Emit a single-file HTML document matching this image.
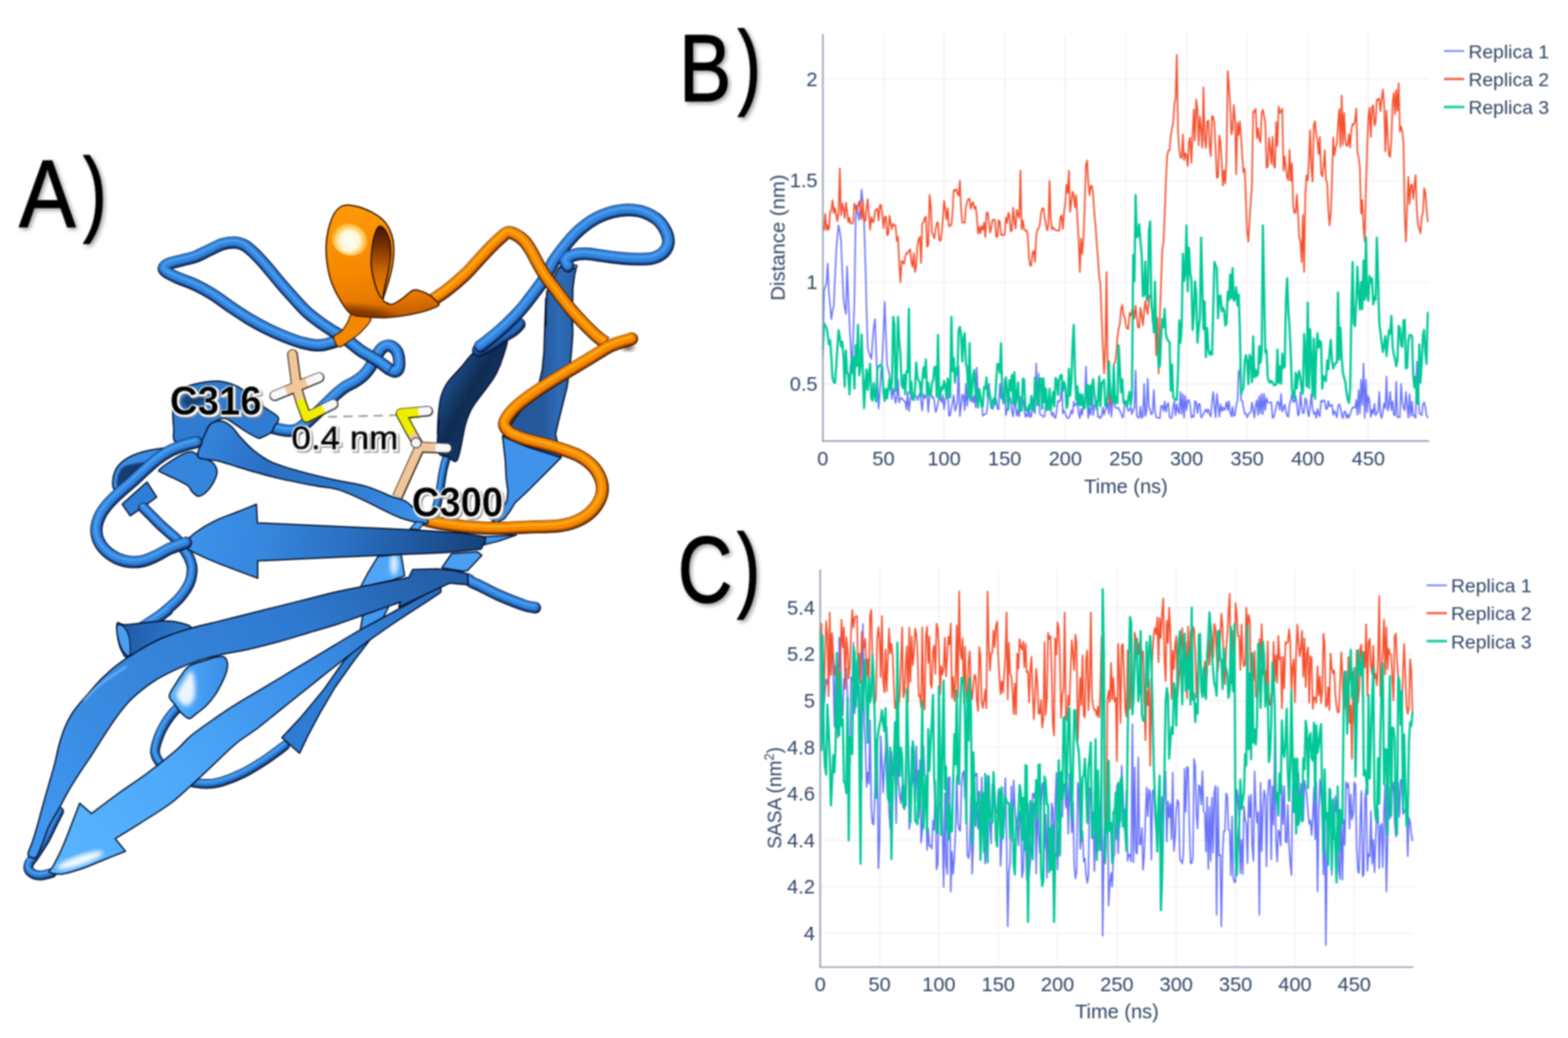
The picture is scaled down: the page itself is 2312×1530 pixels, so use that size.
<!DOCTYPE html>
<html><head><meta charset="utf-8"><title>Figure</title>
<style>
html,body{margin:0;padding:0;background:#fff;}
svg{display:block;}
text{font-family:"Liberation Sans",sans-serif;}
</style></head><body>
<svg width="2312" height="1530" viewBox="0 0 2312 1530">
<rect width="2312" height="1530" fill="#fff"/>
<defs><filter id="soft" x="0" y="0" width="100%" height="100%" filterUnits="userSpaceOnUse" color-interpolation-filters="sRGB"><feGaussianBlur stdDeviation="1.0"/></filter><filter id="soft2" x="0" y="0" width="100%" height="100%" filterUnits="userSpaceOnUse" color-interpolation-filters="sRGB"><feGaussianBlur stdDeviation="0.9"/></filter></defs>
<g filter="url(#soft)">
<defs>
<filter id="b1" x="-20%" y="-20%" width="140%" height="140%"><feGaussianBlur stdDeviation="1.1"/></filter>
<filter id="b3" x="-20%" y="-20%" width="140%" height="140%"><feGaussianBlur stdDeviation="3"/></filter>
<filter id="lab" x="-10%" y="-25%" width="125%" height="160%"><feMorphology in="SourceAlpha" operator="dilate" radius="1.9" result="d1"/><feOffset in="d1" dx="2.8" dy="3.2" result="sh"/><feFlood flood-color="#8c8c8c" flood-opacity="0.9"/><feComposite in2="sh" operator="in" result="shc"/><feOffset in="d1" dx="1.1" dy="1.3" result="d2"/><feFlood flood-color="#fbfbfb"/><feComposite in2="d2" operator="in" result="wh"/><feMerge><feMergeNode in="shc"/><feMergeNode in="wh"/><feMergeNode in="SourceGraphic"/></feMerge></filter>
<filter id="bigsh" x="-20%" y="-20%" width="150%" height="150%"><feGaussianBlur in="SourceAlpha" stdDeviation="3"/><feOffset dx="2.5" dy="3" result="b"/><feComponentTransfer in="b" result="b2"><feFuncA type="linear" slope="0.4"/></feComponentTransfer><feMerge><feMergeNode in="b2"/><feMergeNode in="SourceGraphic"/></feMerge></filter>
<filter id="b6" x="-30%" y="-30%" width="160%" height="160%"><feGaussianBlur stdDeviation="6"/></filter>
<linearGradient id="gStrandV" gradientUnits="userSpaceOnUse" x1="800.0" y1="0.0" x2="850.0" y2="0.0"><stop offset="0" stop-color="#25599c"/><stop offset="0.5" stop-color="#2e6cb8"/><stop offset="1" stop-color="#27609f"/></linearGradient>
<linearGradient id="gStrandD" gradientUnits="userSpaceOnUse" x1="650.0" y1="560.0" x2="740.0" y2="610.0"><stop offset="0" stop-color="#1f5596"/><stop offset="0.45" stop-color="#0f2c52"/><stop offset="0.8" stop-color="#133766"/><stop offset="1" stop-color="#1d4f8c"/></linearGradient>
<linearGradient id="gArrow1" gradientUnits="userSpaceOnUse" x1="280.0" y1="760.0" x2="710.0" y2="800.0"><stop offset="0" stop-color="#3e92ea"/><stop offset="0.25" stop-color="#3688de"/><stop offset="0.55" stop-color="#2a6fc2"/><stop offset="1" stop-color="#17427c"/></linearGradient>
<linearGradient id="gStrand2" gradientUnits="userSpaceOnUse" x1="60.0" y1="1200.0" x2="640.0" y2="850.0"><stop offset="0" stop-color="#4096ee"/><stop offset="0.3" stop-color="#3787dd"/><stop offset="0.7" stop-color="#2f7ad0"/><stop offset="1" stop-color="#245fa8"/></linearGradient>
<linearGradient id="gCone" gradientUnits="userSpaceOnUse" x1="180.0" y1="930.0" x2="280.0" y2="950.0"><stop offset="0" stop-color="#1f5aa6"/><stop offset="1" stop-color="#2f7cd4"/></linearGradient>
<linearGradient id="gLH" gradientUnits="userSpaceOnUse" x1="240.0" y1="1000.0" x2="330.0" y2="1000.0"><stop offset="0" stop-color="#5cb4ff"/><stop offset="0.4" stop-color="#4aa6fa"/><stop offset="1" stop-color="#3c8fe6"/></linearGradient>
<linearGradient id="gStrand3" gradientUnits="userSpaceOnUse" x1="80.0" y1="1280.0" x2="640.0" y2="870.0"><stop offset="0" stop-color="#5ab4ff"/><stop offset="0.35" stop-color="#4ca8fa"/><stop offset="0.7" stop-color="#3a8ee6"/><stop offset="1" stop-color="#2a6cbd"/></linearGradient>
<linearGradient id="gLong" gradientUnits="userSpaceOnUse" x1="300.0" y1="640.0" x2="620.0" y2="760.0"><stop offset="0" stop-color="#3585dc"/><stop offset="0.3" stop-color="#2a6fc4"/><stop offset="0.6" stop-color="#2d78cc"/><stop offset="1" stop-color="#3d8fe8"/></linearGradient>
<linearGradient id="gHelixO" gradientUnits="userSpaceOnUse" x1="500.0" y1="300.0" x2="520.0" y2="470.0"><stop offset="0" stop-color="#ff9a08"/><stop offset="0.6" stop-color="#f78800"/><stop offset="0.85" stop-color="#e87a00"/><stop offset="1" stop-color="#c86000"/></linearGradient>
<linearGradient id="gHoleO" gradientUnits="userSpaceOnUse" x1="565.0" y1="330.0" x2="560.0" y2="440.0"><stop offset="0" stop-color="#3a1500"/><stop offset="0.3" stop-color="#7a3300"/><stop offset="0.65" stop-color="#d06a00"/><stop offset="1" stop-color="#f08200"/></linearGradient>
<radialGradient id="gSpot" gradientUnits="userSpaceOnUse" cx="516.0" cy="355.0" r="30.0"><stop offset="0" stop-color="#ffffff" stop-opacity="1"/><stop offset="0.5" stop-color="#fffbe0" stop-opacity="0.95"/><stop offset="0.8" stop-color="#ffd860" stop-opacity="0.6"/><stop offset="1" stop-color="#ffa010" stop-opacity="0"/></radialGradient>
</defs>
<path d="M666.0,815.9L703.9,813.3L710.5,818.6L689.5,840.8L683.0,842.1L651.6,836.9Z" fill="#4a9ff2" stroke="#061430" stroke-width="2.0" stroke-linejoin="round" />
<path d="M557.5,819.9L591.5,817.3L594.1,832.9L596.7,848.6L578.4,855.2L531.4,865.6L543.1,843.4Z" fill="#4fa6f8" stroke="#061430" stroke-width="2.0" stroke-linejoin="round" />
<ellipse cx="581" cy="832" rx="6" ry="16" fill="#fff" opacity="0.8" filter="url(#b3)"/>
<path d="M535.3,904.5L574.5,891.4L563.6,913.2L530.9,930.6Z" fill="#4198ee" stroke="#061430" stroke-width="2.0" stroke-linejoin="round" />
<path d="M715.7,791.1L761.4,788.5L735.3,797.6L714.4,802.9Z" fill="#3f95ec" stroke="#061430" stroke-width="2.0" stroke-linejoin="round" />
<path d="M824.6,393.7L837.6,395.0L850.7,391.1L847.5,404.2L844.8,423.8L844.2,449.9L843.5,480.0L843.9,466.1L844.6,492.3L842.6,518.4L840.0,544.6L836.1,570.7L829.5,596.9L823.0,623.0L819.1,640.0L827.3,674.5L777.6,658.8L741.0,643.1L794.2,568.1L799.5,544.6L802.1,518.4L803.4,479.2L804.7,440.0L805.0,480.0L805.2,449.9L806.3,430.3L819.3,404.2Z" fill="url(#gStrandV)" stroke="#061430" stroke-width="2.0" stroke-linejoin="round" />
<path d="M741.0,643.1L777.6,658.8L827.3,674.5L803.8,698.0L777.6,724.2L759.3,741.2L751.5,754.2L743.7,764.7L733.2,769.9L725.4,768.6L738.4,756.9L747.6,737.3L748.9,724.2L746.3,704.6L745.0,678.4Z" fill="#3f93ea" stroke="#061430" stroke-width="2.0" stroke-linejoin="round" />
<path d="M824.6,393.7L828.5,391.1L837.6,395.0L845.5,389.8L850.7,391.1L849.4,395.0L837.6,397.0Z" fill="#4a9ff0" stroke="#061430" stroke-width="1.2" stroke-linejoin="round" />
<g fill="none" stroke-linecap="round" stroke-linejoin="round"><path d="M659.2,672.0C658.3,675.4 655.4,684.3 653.7,692.2C652.0,700.1 650.7,711.1 649.2,719.6C647.7,728.1 646.3,736.7 644.6,743.4C642.9,750.1 640.0,757.1 639.1,759.9" stroke="#061430" stroke-width="12.5"/><path d="M659.2,672.0C658.3,675.4 655.4,684.3 653.7,692.2C652.0,700.1 650.7,711.1 649.2,719.6C647.7,728.1 646.3,736.7 644.6,743.4C642.9,750.1 640.0,757.1 639.1,759.9" stroke="#1d55a0" stroke-width="9.9" transform="translate(-0.4,-0.8)"/><path d="M659.2,672.0C658.3,675.4 655.4,684.3 653.7,692.2C652.0,700.1 650.7,711.1 649.2,719.6C647.7,728.1 646.3,736.7 644.6,743.4C642.9,750.1 640.0,757.1 639.1,759.9" stroke="#3585dc" stroke-width="6.0" transform="translate(-0.9,-1.9)"/><path d="M659.2,672.0C658.3,675.4 655.4,684.3 653.7,692.2C652.0,700.1 650.7,711.1 649.2,719.6C647.7,728.1 646.3,736.7 644.6,743.4C642.9,750.1 640.0,757.1 639.1,759.9" stroke="#4aa6fa" stroke-width="2.1" stroke-opacity="0.85" transform="translate(-1.4,-3.0)"/></g>
<path d="M700.1,518.4C707.5,512.9 715.9,512.6 723.7,509.3C731.6,506.0 744.2,496.2 747.2,498.8C750.2,501.4 744.6,516.3 742.0,525.0C739.4,533.7 735.4,543.5 731.5,551.1C727.6,558.7 722.8,564.6 718.4,570.7C714.0,576.8 709.3,582.2 705.4,587.7C701.5,593.2 697.9,597.5 694.9,603.4C691.9,609.3 689.1,616.9 687.1,623.0C685.1,629.1 683.8,637.0 683.1,640.0C682.4,643.0 684.5,634.5 683.0,640.9C681.5,647.3 677.6,672.9 673.9,678.4C670.2,683.9 665.7,676.2 661.0,673.9C656.3,671.6 647.8,673.9 645.5,664.7C643.2,655.6 647.3,623.1 647.3,619.0C647.2,614.9 645.3,641.5 645.2,640.0C645.1,638.5 645.6,619.3 646.5,609.9C647.4,600.5 648.3,591.4 650.5,583.8C652.7,576.2 654.8,571.2 659.6,564.2C664.4,557.2 672.5,549.6 679.2,542.0C686.0,534.4 692.7,523.9 700.1,518.4Z" fill="url(#gStrandD)" stroke="#061430" stroke-width="2.0" stroke-linejoin="round" />
<g fill="none" stroke-linecap="round" stroke-linejoin="round"><path d="M765.5,477.9C764.2,479.2 762.0,482.5 757.6,485.8C753.2,489.1 745.4,493.6 739.3,497.5C733.2,501.4 726.6,506.1 721.0,509.3C715.4,512.5 708.0,515.3 705.4,516.5" stroke="#061430" stroke-width="19.0"/><path d="M765.5,477.9C764.2,479.2 762.0,482.5 757.6,485.8C753.2,489.1 745.4,493.6 739.3,497.5C733.2,501.4 726.6,506.1 721.0,509.3C715.4,512.5 708.0,515.3 705.4,516.5" stroke="#15407c" stroke-width="16.4" transform="translate(-0.4,-0.8)"/><path d="M765.5,477.9C764.2,479.2 762.0,482.5 757.6,485.8C753.2,489.1 745.4,493.6 739.3,497.5C733.2,501.4 726.6,506.1 721.0,509.3C715.4,512.5 708.0,515.3 705.4,516.5" stroke="#2468b8" stroke-width="12.5" transform="translate(-0.9,-1.9)"/></g>
<g fill="none" stroke-linecap="round" stroke-linejoin="round"><path d="M837.6,392.4C837.0,391.1 832.6,387.2 833.7,384.6C834.8,382.0 839.2,378.4 844.2,376.7C849.2,374.9 856.2,374.0 863.8,374.1C871.4,374.2 881.2,376.3 889.9,377.4C898.6,378.5 907.4,379.9 916.1,380.7C924.8,381.5 934.6,382.0 942.2,382.0C949.8,382.0 956.1,382.0 961.8,380.7C967.5,379.4 972.5,376.9 976.2,374.1C979.9,371.3 982.6,367.4 984.1,363.7C985.6,360.0 986.1,356.3 985.4,351.9C984.7,347.5 982.9,342.3 980.1,337.5C977.3,332.7 973.6,327.2 968.4,323.1C963.2,319.0 955.8,315.0 948.8,312.7C941.8,310.4 934.1,309.4 926.5,309.4C918.9,309.4 911.3,310.4 903.0,312.7C894.7,315.0 885.6,318.1 876.9,323.1C868.2,328.1 858.3,335.7 850.7,342.7C843.1,349.7 836.8,358.0 831.1,365.0C825.4,372.0 820.0,379.6 816.7,384.6C813.4,389.6 814.5,389.6 811.5,395.0C808.5,400.4 803.9,409.2 798.4,417.3C792.9,425.4 784.3,436.3 778.8,443.4C773.3,450.4 771.2,453.4 765.5,459.6C759.8,465.8 751.4,474.2 744.6,480.5C737.9,486.8 731.1,492.5 725.0,497.5C718.9,502.5 710.8,508.4 708.0,510.6" stroke="#061430" stroke-width="18.5"/><path d="M837.6,392.4C837.0,391.1 832.6,387.2 833.7,384.6C834.8,382.0 839.2,378.4 844.2,376.7C849.2,374.9 856.2,374.0 863.8,374.1C871.4,374.2 881.2,376.3 889.9,377.4C898.6,378.5 907.4,379.9 916.1,380.7C924.8,381.5 934.6,382.0 942.2,382.0C949.8,382.0 956.1,382.0 961.8,380.7C967.5,379.4 972.5,376.9 976.2,374.1C979.9,371.3 982.6,367.4 984.1,363.7C985.6,360.0 986.1,356.3 985.4,351.9C984.7,347.5 982.9,342.3 980.1,337.5C977.3,332.7 973.6,327.2 968.4,323.1C963.2,319.0 955.8,315.0 948.8,312.7C941.8,310.4 934.1,309.4 926.5,309.4C918.9,309.4 911.3,310.4 903.0,312.7C894.7,315.0 885.6,318.1 876.9,323.1C868.2,328.1 858.3,335.7 850.7,342.7C843.1,349.7 836.8,358.0 831.1,365.0C825.4,372.0 820.0,379.6 816.7,384.6C813.4,389.6 814.5,389.6 811.5,395.0C808.5,400.4 803.9,409.2 798.4,417.3C792.9,425.4 784.3,436.3 778.8,443.4C773.3,450.4 771.2,453.4 765.5,459.6C759.8,465.8 751.4,474.2 744.6,480.5C737.9,486.8 731.1,492.5 725.0,497.5C718.9,502.5 710.8,508.4 708.0,510.6" stroke="#1d55a0" stroke-width="15.9" transform="translate(-0.4,-0.8)"/><path d="M837.6,392.4C837.0,391.1 832.6,387.2 833.7,384.6C834.8,382.0 839.2,378.4 844.2,376.7C849.2,374.9 856.2,374.0 863.8,374.1C871.4,374.2 881.2,376.3 889.9,377.4C898.6,378.5 907.4,379.9 916.1,380.7C924.8,381.5 934.6,382.0 942.2,382.0C949.8,382.0 956.1,382.0 961.8,380.7C967.5,379.4 972.5,376.9 976.2,374.1C979.9,371.3 982.6,367.4 984.1,363.7C985.6,360.0 986.1,356.3 985.4,351.9C984.7,347.5 982.9,342.3 980.1,337.5C977.3,332.7 973.6,327.2 968.4,323.1C963.2,319.0 955.8,315.0 948.8,312.7C941.8,310.4 934.1,309.4 926.5,309.4C918.9,309.4 911.3,310.4 903.0,312.7C894.7,315.0 885.6,318.1 876.9,323.1C868.2,328.1 858.3,335.7 850.7,342.7C843.1,349.7 836.8,358.0 831.1,365.0C825.4,372.0 820.0,379.6 816.7,384.6C813.4,389.6 814.5,389.6 811.5,395.0C808.5,400.4 803.9,409.2 798.4,417.3C792.9,425.4 784.3,436.3 778.8,443.4C773.3,450.4 771.2,453.4 765.5,459.6C759.8,465.8 751.4,474.2 744.6,480.5C737.9,486.8 731.1,492.5 725.0,497.5C718.9,502.5 710.8,508.4 708.0,510.6" stroke="#3585dc" stroke-width="12.0" transform="translate(-0.9,-1.9)"/><path d="M837.6,392.4C837.0,391.1 832.6,387.2 833.7,384.6C834.8,382.0 839.2,378.4 844.2,376.7C849.2,374.9 856.2,374.0 863.8,374.1C871.4,374.2 881.2,376.3 889.9,377.4C898.6,378.5 907.4,379.9 916.1,380.7C924.8,381.5 934.6,382.0 942.2,382.0C949.8,382.0 956.1,382.0 961.8,380.7C967.5,379.4 972.5,376.9 976.2,374.1C979.9,371.3 982.6,367.4 984.1,363.7C985.6,360.0 986.1,356.3 985.4,351.9C984.7,347.5 982.9,342.3 980.1,337.5C977.3,332.7 973.6,327.2 968.4,323.1C963.2,319.0 955.8,315.0 948.8,312.7C941.8,310.4 934.1,309.4 926.5,309.4C918.9,309.4 911.3,310.4 903.0,312.7C894.7,315.0 885.6,318.1 876.9,323.1C868.2,328.1 858.3,335.7 850.7,342.7C843.1,349.7 836.8,358.0 831.1,365.0C825.4,372.0 820.0,379.6 816.7,384.6C813.4,389.6 814.5,389.6 811.5,395.0C808.5,400.4 803.9,409.2 798.4,417.3C792.9,425.4 784.3,436.3 778.8,443.4C773.3,450.4 771.2,453.4 765.5,459.6C759.8,465.8 751.4,474.2 744.6,480.5C737.9,486.8 731.1,492.5 725.0,497.5C718.9,502.5 710.8,508.4 708.0,510.6" stroke="#4aa6fa" stroke-width="3.1" stroke-opacity="0.85" transform="translate(-1.4,-3.0)"/></g>
<ellipse cx="926" cy="512" rx="9" ry="5" fill="#3a1800" opacity="0.7" filter="url(#b3)"/>
<g fill="none" stroke-linecap="butt" stroke-linejoin="round"><path d="M638.2,442.1C641.7,439.7 651.4,433.8 659.2,427.7C667.1,421.6 677.7,412.7 685.3,405.5C692.9,398.3 698.4,391.6 704.9,384.6C711.4,377.6 719.0,369.3 724.5,363.7C730.0,358.1 733.5,354.7 737.6,351.2C741.7,347.7 745.2,343.7 749.0,342.8C752.8,341.9 756.6,344.1 760.5,346.0C764.4,347.9 768.6,350.7 772.3,354.5C776.0,358.3 779.2,363.2 782.7,368.9C786.2,374.6 789.5,382.0 793.2,388.5C796.9,395.0 800.9,402.0 805.0,408.1C809.1,414.2 813.9,419.7 818.0,425.1C822.1,430.6 825.7,435.4 829.8,440.8C833.9,446.2 837.9,451.7 842.7,457.3C847.5,462.9 853.2,469.0 858.4,474.5C863.6,480.0 869.5,485.9 874.1,490.2C878.7,494.5 882.6,497.9 885.9,500.4C889.2,502.9 892.4,504.3 893.7,505.1" stroke="#3a1800" stroke-width="19.0"/><path d="M638.2,442.1C641.7,439.7 651.4,433.8 659.2,427.7C667.1,421.6 677.7,412.7 685.3,405.5C692.9,398.3 698.4,391.6 704.9,384.6C711.4,377.6 719.0,369.3 724.5,363.7C730.0,358.1 733.5,354.7 737.6,351.2C741.7,347.7 745.2,343.7 749.0,342.8C752.8,341.9 756.6,344.1 760.5,346.0C764.4,347.9 768.6,350.7 772.3,354.5C776.0,358.3 779.2,363.2 782.7,368.9C786.2,374.6 789.5,382.0 793.2,388.5C796.9,395.0 800.9,402.0 805.0,408.1C809.1,414.2 813.9,419.7 818.0,425.1C822.1,430.6 825.7,435.4 829.8,440.8C833.9,446.2 837.9,451.7 842.7,457.3C847.5,462.9 853.2,469.0 858.4,474.5C863.6,480.0 869.5,485.9 874.1,490.2C878.7,494.5 882.6,497.9 885.9,500.4C889.2,502.9 892.4,504.3 893.7,505.1" stroke="#c05a00" stroke-width="16.4" transform="translate(-0.4,-0.8)"/><path d="M638.2,442.1C641.7,439.7 651.4,433.8 659.2,427.7C667.1,421.6 677.7,412.7 685.3,405.5C692.9,398.3 698.4,391.6 704.9,384.6C711.4,377.6 719.0,369.3 724.5,363.7C730.0,358.1 733.5,354.7 737.6,351.2C741.7,347.7 745.2,343.7 749.0,342.8C752.8,341.9 756.6,344.1 760.5,346.0C764.4,347.9 768.6,350.7 772.3,354.5C776.0,358.3 779.2,363.2 782.7,368.9C786.2,374.6 789.5,382.0 793.2,388.5C796.9,395.0 800.9,402.0 805.0,408.1C809.1,414.2 813.9,419.7 818.0,425.1C822.1,430.6 825.7,435.4 829.8,440.8C833.9,446.2 837.9,451.7 842.7,457.3C847.5,462.9 853.2,469.0 858.4,474.5C863.6,480.0 869.5,485.9 874.1,490.2C878.7,494.5 882.6,497.9 885.9,500.4C889.2,502.9 892.4,504.3 893.7,505.1" stroke="#f88a00" stroke-width="12.5" transform="translate(-0.9,-1.9)"/><path d="M638.2,442.1C641.7,439.7 651.4,433.8 659.2,427.7C667.1,421.6 677.7,412.7 685.3,405.5C692.9,398.3 698.4,391.6 704.9,384.6C711.4,377.6 719.0,369.3 724.5,363.7C730.0,358.1 733.5,354.7 737.6,351.2C741.7,347.7 745.2,343.7 749.0,342.8C752.8,341.9 756.6,344.1 760.5,346.0C764.4,347.9 768.6,350.7 772.3,354.5C776.0,358.3 779.2,363.2 782.7,368.9C786.2,374.6 789.5,382.0 793.2,388.5C796.9,395.0 800.9,402.0 805.0,408.1C809.1,414.2 813.9,419.7 818.0,425.1C822.1,430.6 825.7,435.4 829.8,440.8C833.9,446.2 837.9,451.7 842.7,457.3C847.5,462.9 853.2,469.0 858.4,474.5C863.6,480.0 869.5,485.9 874.1,490.2C878.7,494.5 882.6,497.9 885.9,500.4C889.2,502.9 892.4,504.3 893.7,505.1" stroke="#ffb020" stroke-width="3.2" stroke-opacity="0.85" transform="translate(-1.4,-3.0)"/></g>
<g stroke-linecap="round"><g fill="none" stroke-linecap="round" stroke-linejoin="round"><path d="M931.4,499.6C928.4,500.5 918.9,503.1 913.3,505.1C907.7,507.1 905.0,507.4 897.6,511.4C890.2,515.4 878.0,523.4 868.8,528.9C859.6,534.4 851.3,539.4 842.6,544.6C833.9,549.8 825.2,554.8 816.5,560.3C807.8,565.8 799.0,571.2 790.3,577.3C781.6,583.4 771.2,590.8 764.2,596.9C757.2,603.0 751.9,609.1 748.5,613.9C745.1,618.7 743.8,622.1 743.8,625.5C743.8,628.9 746.4,632.0 748.5,634.5C750.6,637.0 751.9,638.2 756.7,640.5C761.6,642.8 769.8,646.0 777.6,648.4C785.5,650.8 795.1,652.5 803.8,654.9C812.5,657.3 821.2,659.7 829.9,662.7C838.6,665.8 848.5,668.8 856.1,673.2C863.7,677.6 870.7,683.2 875.7,688.9C880.7,694.6 884.0,701.3 886.1,707.2C888.2,713.1 888.8,718.5 888.1,724.2C887.5,729.9 885.4,735.8 882.2,741.2C879.1,746.7 874.7,752.3 869.2,756.9C863.8,761.5 857.1,765.5 849.5,768.6C841.9,771.7 835.2,773.8 823.4,775.2C811.6,776.6 791.4,776.4 778.7,776.9C766.0,777.4 757.8,778.1 747.3,778.4C736.8,778.6 726.3,778.8 715.9,778.4C705.5,778.0 695.0,777.3 684.6,776.3C674.2,775.3 662.4,773.7 653.2,772.2C644.0,770.7 633.2,768.0 629.2,767.1" stroke="#3a1800" stroke-width="19.0"/><path d="M931.4,499.6C928.4,500.5 918.9,503.1 913.3,505.1C907.7,507.1 905.0,507.4 897.6,511.4C890.2,515.4 878.0,523.4 868.8,528.9C859.6,534.4 851.3,539.4 842.6,544.6C833.9,549.8 825.2,554.8 816.5,560.3C807.8,565.8 799.0,571.2 790.3,577.3C781.6,583.4 771.2,590.8 764.2,596.9C757.2,603.0 751.9,609.1 748.5,613.9C745.1,618.7 743.8,622.1 743.8,625.5C743.8,628.9 746.4,632.0 748.5,634.5C750.6,637.0 751.9,638.2 756.7,640.5C761.6,642.8 769.8,646.0 777.6,648.4C785.5,650.8 795.1,652.5 803.8,654.9C812.5,657.3 821.2,659.7 829.9,662.7C838.6,665.8 848.5,668.8 856.1,673.2C863.7,677.6 870.7,683.2 875.7,688.9C880.7,694.6 884.0,701.3 886.1,707.2C888.2,713.1 888.8,718.5 888.1,724.2C887.5,729.9 885.4,735.8 882.2,741.2C879.1,746.7 874.7,752.3 869.2,756.9C863.8,761.5 857.1,765.5 849.5,768.6C841.9,771.7 835.2,773.8 823.4,775.2C811.6,776.6 791.4,776.4 778.7,776.9C766.0,777.4 757.8,778.1 747.3,778.4C736.8,778.6 726.3,778.8 715.9,778.4C705.5,778.0 695.0,777.3 684.6,776.3C674.2,775.3 662.4,773.7 653.2,772.2C644.0,770.7 633.2,768.0 629.2,767.1" stroke="#c05a00" stroke-width="16.4" transform="translate(-0.4,-0.8)"/><path d="M931.4,499.6C928.4,500.5 918.9,503.1 913.3,505.1C907.7,507.1 905.0,507.4 897.6,511.4C890.2,515.4 878.0,523.4 868.8,528.9C859.6,534.4 851.3,539.4 842.6,544.6C833.9,549.8 825.2,554.8 816.5,560.3C807.8,565.8 799.0,571.2 790.3,577.3C781.6,583.4 771.2,590.8 764.2,596.9C757.2,603.0 751.9,609.1 748.5,613.9C745.1,618.7 743.8,622.1 743.8,625.5C743.8,628.9 746.4,632.0 748.5,634.5C750.6,637.0 751.9,638.2 756.7,640.5C761.6,642.8 769.8,646.0 777.6,648.4C785.5,650.8 795.1,652.5 803.8,654.9C812.5,657.3 821.2,659.7 829.9,662.7C838.6,665.8 848.5,668.8 856.1,673.2C863.7,677.6 870.7,683.2 875.7,688.9C880.7,694.6 884.0,701.3 886.1,707.2C888.2,713.1 888.8,718.5 888.1,724.2C887.5,729.9 885.4,735.8 882.2,741.2C879.1,746.7 874.7,752.3 869.2,756.9C863.8,761.5 857.1,765.5 849.5,768.6C841.9,771.7 835.2,773.8 823.4,775.2C811.6,776.6 791.4,776.4 778.7,776.9C766.0,777.4 757.8,778.1 747.3,778.4C736.8,778.6 726.3,778.8 715.9,778.4C705.5,778.0 695.0,777.3 684.6,776.3C674.2,775.3 662.4,773.7 653.2,772.2C644.0,770.7 633.2,768.0 629.2,767.1" stroke="#f88a00" stroke-width="12.5" transform="translate(-0.9,-1.9)"/><path d="M931.4,499.6C928.4,500.5 918.9,503.1 913.3,505.1C907.7,507.1 905.0,507.4 897.6,511.4C890.2,515.4 878.0,523.4 868.8,528.9C859.6,534.4 851.3,539.4 842.6,544.6C833.9,549.8 825.2,554.8 816.5,560.3C807.8,565.8 799.0,571.2 790.3,577.3C781.6,583.4 771.2,590.8 764.2,596.9C757.2,603.0 751.9,609.1 748.5,613.9C745.1,618.7 743.8,622.1 743.8,625.5C743.8,628.9 746.4,632.0 748.5,634.5C750.6,637.0 751.9,638.2 756.7,640.5C761.6,642.8 769.8,646.0 777.6,648.4C785.5,650.8 795.1,652.5 803.8,654.9C812.5,657.3 821.2,659.7 829.9,662.7C838.6,665.8 848.5,668.8 856.1,673.2C863.7,677.6 870.7,683.2 875.7,688.9C880.7,694.6 884.0,701.3 886.1,707.2C888.2,713.1 888.8,718.5 888.1,724.2C887.5,729.9 885.4,735.8 882.2,741.2C879.1,746.7 874.7,752.3 869.2,756.9C863.8,761.5 857.1,765.5 849.5,768.6C841.9,771.7 835.2,773.8 823.4,775.2C811.6,776.6 791.4,776.4 778.7,776.9C766.0,777.4 757.8,778.1 747.3,778.4C736.8,778.6 726.3,778.8 715.9,778.4C705.5,778.0 695.0,777.3 684.6,776.3C674.2,775.3 662.4,773.7 653.2,772.2C644.0,770.7 633.2,768.0 629.2,767.1" stroke="#ffb020" stroke-width="3.2" stroke-opacity="0.85" transform="translate(-1.4,-3.0)"/></g></g>
<g fill="none" stroke-linecap="round" stroke-linejoin="round"><path d="M493.7,503.9C490.0,504.8 479.5,508.9 471.4,509.1C463.3,509.3 454.0,507.4 445.3,505.2C436.6,503.0 427.9,499.5 419.2,496.0C410.5,492.5 401.7,488.6 393.0,484.2C384.3,479.8 375.6,475.1 366.9,469.9C358.2,464.7 349.4,458.8 340.7,452.9C332.0,447.0 323.3,440.1 314.6,434.6C305.9,429.2 297.1,424.4 288.4,420.2C279.7,416.0 269.3,412.8 262.3,409.7C255.3,406.6 250.1,404.3 246.6,401.9C243.1,399.5 241.0,397.6 241.4,395.4C241.8,393.2 244.6,390.8 249.2,388.8C253.8,386.8 262.3,385.3 268.8,383.6C275.3,381.9 281.9,380.8 288.4,378.4C294.9,376.0 301.5,372.2 308.0,369.2C314.5,366.1 321.3,362.1 327.6,360.1C333.9,358.2 340.4,357.3 345.9,357.5C351.3,357.7 355.7,359.0 360.3,361.4C364.9,363.8 367.9,366.6 373.4,371.8C378.8,377.0 386.5,385.3 393.0,392.7C399.5,400.1 406.1,408.7 412.6,416.3C419.1,423.9 425.7,431.3 432.2,438.5C438.7,445.7 445.3,453.3 451.8,459.4C458.3,465.5 464.9,470.3 471.4,475.1C477.9,479.9 484.6,484.1 491.0,488.2C497.4,492.3 503.2,495.1 510.0,499.9C516.8,504.6 525.6,512.5 531.5,516.7C537.4,520.9 540.6,522.2 545.2,525.0C549.8,527.8 554.0,529.9 559.0,533.2C564.0,536.6 571.4,542.7 575.4,545.1C579.4,547.5 580.7,547.9 582.7,547.8C584.7,547.6 586.3,546.3 587.3,544.2C588.3,542.1 588.9,539.0 588.7,535.0C588.6,531.0 587.9,524.2 586.4,520.4C584.9,516.6 582.3,514.0 580.0,512.2C577.7,510.4 575.0,509.6 572.7,509.4C570.4,509.2 568.1,510.3 566.3,511.2C564.5,512.1 563.7,512.4 561.7,514.9C559.7,517.4 557.1,521.3 554.4,525.9C551.6,530.5 548.2,537.8 545.2,542.4C542.2,547.0 539.9,549.8 536.1,553.3C532.3,556.8 527.0,560.5 522.4,563.4C517.8,566.3 513.2,567.7 508.6,570.7C504.0,573.8 498.7,578.4 494.9,581.7C491.1,585.1 494.0,583.0 485.8,590.8C477.6,598.6 455.6,621.1 445.7,628.5C435.8,635.9 433.1,634.6 426.1,635.0C419.1,635.4 407.6,631.8 403.9,631.1" stroke="#061430" stroke-width="18.0"/><path d="M493.7,503.9C490.0,504.8 479.5,508.9 471.4,509.1C463.3,509.3 454.0,507.4 445.3,505.2C436.6,503.0 427.9,499.5 419.2,496.0C410.5,492.5 401.7,488.6 393.0,484.2C384.3,479.8 375.6,475.1 366.9,469.9C358.2,464.7 349.4,458.8 340.7,452.9C332.0,447.0 323.3,440.1 314.6,434.6C305.9,429.2 297.1,424.4 288.4,420.2C279.7,416.0 269.3,412.8 262.3,409.7C255.3,406.6 250.1,404.3 246.6,401.9C243.1,399.5 241.0,397.6 241.4,395.4C241.8,393.2 244.6,390.8 249.2,388.8C253.8,386.8 262.3,385.3 268.8,383.6C275.3,381.9 281.9,380.8 288.4,378.4C294.9,376.0 301.5,372.2 308.0,369.2C314.5,366.1 321.3,362.1 327.6,360.1C333.9,358.2 340.4,357.3 345.9,357.5C351.3,357.7 355.7,359.0 360.3,361.4C364.9,363.8 367.9,366.6 373.4,371.8C378.8,377.0 386.5,385.3 393.0,392.7C399.5,400.1 406.1,408.7 412.6,416.3C419.1,423.9 425.7,431.3 432.2,438.5C438.7,445.7 445.3,453.3 451.8,459.4C458.3,465.5 464.9,470.3 471.4,475.1C477.9,479.9 484.6,484.1 491.0,488.2C497.4,492.3 503.2,495.1 510.0,499.9C516.8,504.6 525.6,512.5 531.5,516.7C537.4,520.9 540.6,522.2 545.2,525.0C549.8,527.8 554.0,529.9 559.0,533.2C564.0,536.6 571.4,542.7 575.4,545.1C579.4,547.5 580.7,547.9 582.7,547.8C584.7,547.6 586.3,546.3 587.3,544.2C588.3,542.1 588.9,539.0 588.7,535.0C588.6,531.0 587.9,524.2 586.4,520.4C584.9,516.6 582.3,514.0 580.0,512.2C577.7,510.4 575.0,509.6 572.7,509.4C570.4,509.2 568.1,510.3 566.3,511.2C564.5,512.1 563.7,512.4 561.7,514.9C559.7,517.4 557.1,521.3 554.4,525.9C551.6,530.5 548.2,537.8 545.2,542.4C542.2,547.0 539.9,549.8 536.1,553.3C532.3,556.8 527.0,560.5 522.4,563.4C517.8,566.3 513.2,567.7 508.6,570.7C504.0,573.8 498.7,578.4 494.9,581.7C491.1,585.1 494.0,583.0 485.8,590.8C477.6,598.6 455.6,621.1 445.7,628.5C435.8,635.9 433.1,634.6 426.1,635.0C419.1,635.4 407.6,631.8 403.9,631.1" stroke="#1d55a0" stroke-width="15.4" transform="translate(-0.4,-0.8)"/><path d="M493.7,503.9C490.0,504.8 479.5,508.9 471.4,509.1C463.3,509.3 454.0,507.4 445.3,505.2C436.6,503.0 427.9,499.5 419.2,496.0C410.5,492.5 401.7,488.6 393.0,484.2C384.3,479.8 375.6,475.1 366.9,469.9C358.2,464.7 349.4,458.8 340.7,452.9C332.0,447.0 323.3,440.1 314.6,434.6C305.9,429.2 297.1,424.4 288.4,420.2C279.7,416.0 269.3,412.8 262.3,409.7C255.3,406.6 250.1,404.3 246.6,401.9C243.1,399.5 241.0,397.6 241.4,395.4C241.8,393.2 244.6,390.8 249.2,388.8C253.8,386.8 262.3,385.3 268.8,383.6C275.3,381.9 281.9,380.8 288.4,378.4C294.9,376.0 301.5,372.2 308.0,369.2C314.5,366.1 321.3,362.1 327.6,360.1C333.9,358.2 340.4,357.3 345.9,357.5C351.3,357.7 355.7,359.0 360.3,361.4C364.9,363.8 367.9,366.6 373.4,371.8C378.8,377.0 386.5,385.3 393.0,392.7C399.5,400.1 406.1,408.7 412.6,416.3C419.1,423.9 425.7,431.3 432.2,438.5C438.7,445.7 445.3,453.3 451.8,459.4C458.3,465.5 464.9,470.3 471.4,475.1C477.9,479.9 484.6,484.1 491.0,488.2C497.4,492.3 503.2,495.1 510.0,499.9C516.8,504.6 525.6,512.5 531.5,516.7C537.4,520.9 540.6,522.2 545.2,525.0C549.8,527.8 554.0,529.9 559.0,533.2C564.0,536.6 571.4,542.7 575.4,545.1C579.4,547.5 580.7,547.9 582.7,547.8C584.7,547.6 586.3,546.3 587.3,544.2C588.3,542.1 588.9,539.0 588.7,535.0C588.6,531.0 587.9,524.2 586.4,520.4C584.9,516.6 582.3,514.0 580.0,512.2C577.7,510.4 575.0,509.6 572.7,509.4C570.4,509.2 568.1,510.3 566.3,511.2C564.5,512.1 563.7,512.4 561.7,514.9C559.7,517.4 557.1,521.3 554.4,525.9C551.6,530.5 548.2,537.8 545.2,542.4C542.2,547.0 539.9,549.8 536.1,553.3C532.3,556.8 527.0,560.5 522.4,563.4C517.8,566.3 513.2,567.7 508.6,570.7C504.0,573.8 498.7,578.4 494.9,581.7C491.1,585.1 494.0,583.0 485.8,590.8C477.6,598.6 455.6,621.1 445.7,628.5C435.8,635.9 433.1,634.6 426.1,635.0C419.1,635.4 407.6,631.8 403.9,631.1" stroke="#3585dc" stroke-width="11.5" transform="translate(-0.9,-1.9)"/><path d="M493.7,503.9C490.0,504.8 479.5,508.9 471.4,509.1C463.3,509.3 454.0,507.4 445.3,505.2C436.6,503.0 427.9,499.5 419.2,496.0C410.5,492.5 401.7,488.6 393.0,484.2C384.3,479.8 375.6,475.1 366.9,469.9C358.2,464.7 349.4,458.8 340.7,452.9C332.0,447.0 323.3,440.1 314.6,434.6C305.9,429.2 297.1,424.4 288.4,420.2C279.7,416.0 269.3,412.8 262.3,409.7C255.3,406.6 250.1,404.3 246.6,401.9C243.1,399.5 241.0,397.6 241.4,395.4C241.8,393.2 244.6,390.8 249.2,388.8C253.8,386.8 262.3,385.3 268.8,383.6C275.3,381.9 281.9,380.8 288.4,378.4C294.9,376.0 301.5,372.2 308.0,369.2C314.5,366.1 321.3,362.1 327.6,360.1C333.9,358.2 340.4,357.3 345.9,357.5C351.3,357.7 355.7,359.0 360.3,361.4C364.9,363.8 367.9,366.6 373.4,371.8C378.8,377.0 386.5,385.3 393.0,392.7C399.5,400.1 406.1,408.7 412.6,416.3C419.1,423.9 425.7,431.3 432.2,438.5C438.7,445.7 445.3,453.3 451.8,459.4C458.3,465.5 464.9,470.3 471.4,475.1C477.9,479.9 484.6,484.1 491.0,488.2C497.4,492.3 503.2,495.1 510.0,499.9C516.8,504.6 525.6,512.5 531.5,516.7C537.4,520.9 540.6,522.2 545.2,525.0C549.8,527.8 554.0,529.9 559.0,533.2C564.0,536.6 571.4,542.7 575.4,545.1C579.4,547.5 580.7,547.9 582.7,547.8C584.7,547.6 586.3,546.3 587.3,544.2C588.3,542.1 588.9,539.0 588.7,535.0C588.6,531.0 587.9,524.2 586.4,520.4C584.9,516.6 582.3,514.0 580.0,512.2C577.7,510.4 575.0,509.6 572.7,509.4C570.4,509.2 568.1,510.3 566.3,511.2C564.5,512.1 563.7,512.4 561.7,514.9C559.7,517.4 557.1,521.3 554.4,525.9C551.6,530.5 548.2,537.8 545.2,542.4C542.2,547.0 539.9,549.8 536.1,553.3C532.3,556.8 527.0,560.5 522.4,563.4C517.8,566.3 513.2,567.7 508.6,570.7C504.0,573.8 498.7,578.4 494.9,581.7C491.1,585.1 494.0,583.0 485.8,590.8C477.6,598.6 455.6,621.1 445.7,628.5C435.8,635.9 433.1,634.6 426.1,635.0C419.1,635.4 407.6,631.8 403.9,631.1" stroke="#4aa6fa" stroke-width="3.1" stroke-opacity="0.85" transform="translate(-1.4,-3.0)"/></g><g fill="none" stroke-linecap="butt" stroke-linejoin="round"><path d="M491.0,488.2C497.4,492.3 503.2,495.1 510.0,499.9C516.8,504.6 525.6,512.5 531.5,516.7C537.4,520.9 540.6,522.2 545.2,525.0C549.8,527.8 554.0,529.9 559.0,533.2C564.0,536.6 571.4,542.7 575.4,545.1" stroke="#061430" stroke-width="18.0"/><path d="M491.0,488.2C497.4,492.3 503.2,495.1 510.0,499.9C516.8,504.6 525.6,512.5 531.5,516.7C537.4,520.9 540.6,522.2 545.2,525.0C549.8,527.8 554.0,529.9 559.0,533.2C564.0,536.6 571.4,542.7 575.4,545.1" stroke="#1d55a0" stroke-width="15.4" transform="translate(-0.4,-0.8)"/><path d="M491.0,488.2C497.4,492.3 503.2,495.1 510.0,499.9C516.8,504.6 525.6,512.5 531.5,516.7C537.4,520.9 540.6,522.2 545.2,525.0C549.8,527.8 554.0,529.9 559.0,533.2C564.0,536.6 571.4,542.7 575.4,545.1" stroke="#3585dc" stroke-width="11.5" transform="translate(-0.9,-1.9)"/><path d="M491.0,488.2C497.4,492.3 503.2,495.1 510.0,499.9C516.8,504.6 525.6,512.5 531.5,516.7C537.4,520.9 540.6,522.2 545.2,525.0C549.8,527.8 554.0,529.9 559.0,533.2C564.0,536.6 571.4,542.7 575.4,545.1" stroke="#4aa6fa" stroke-width="3.1" stroke-opacity="0.85" transform="translate(-1.4,-3.0)"/></g>
<path d="M492.2,496.6C493.0,492.7 500.6,491.3 504.1,487.5C507.6,483.7 510.9,477.7 513.2,473.7C515.5,469.7 514.8,465.4 517.8,463.7C520.8,462.0 526.6,462.6 531.5,463.7C536.4,464.8 547.1,465.7 547.1,470.1C547.1,474.5 537.1,484.6 531.5,490.2C525.9,495.8 518.5,500.4 513.2,503.9C507.9,507.4 503.0,512.4 499.5,511.2C496.0,510.0 491.4,500.6 492.2,496.6Z" fill="#f58800" stroke="#3a1800" stroke-width="1.6" stroke-linejoin="round" />
<path d="M518.0,463.0C511.5,459.1 507.1,451.0 502.3,443.4C497.5,435.8 492.5,426.0 489.2,417.3C485.9,408.6 484.1,399.8 482.7,391.1C481.3,382.4 480.5,373.7 480.7,365.0C480.9,356.3 482.1,346.9 484.0,338.8C485.9,330.7 488.8,322.3 491.8,316.6C494.9,310.9 498.8,307.2 502.3,304.8C505.8,302.4 508.4,302.2 512.7,302.2C517.1,302.2 522.5,303.1 528.4,304.8C534.3,306.6 541.9,309.4 548.0,312.7C554.1,316.0 560.6,320.3 565.0,324.4C569.4,328.5 571.8,332.7 574.2,337.5C576.6,342.3 578.3,347.5 579.4,353.2C580.5,358.9 580.8,365.2 580.7,371.5C580.6,377.8 579.9,384.6 578.8,391.1C577.7,397.6 575.8,404.6 574.2,410.7C572.6,416.8 570.5,422.7 569.0,427.7C567.5,432.7 565.2,437.9 565.0,440.8C564.8,443.7 565.4,443.7 567.6,445.0C569.8,446.3 573.7,449.5 578.1,448.6C582.5,447.7 588.6,443.0 593.8,439.5C599.0,436.0 604.5,429.2 609.5,427.7C614.5,426.2 619.8,429.0 623.9,430.3C628.0,431.6 631.9,434.2 634.3,435.6C636.7,437.0 636.0,436.6 638.2,438.8C640.4,441.0 647.2,446.1 647.4,448.6C647.6,451.1 644.1,451.9 639.5,453.9C634.9,455.9 627.5,458.4 619.9,460.4C612.3,462.3 602.5,464.3 593.8,465.6C585.1,466.9 576.3,468.0 567.6,468.2C558.9,468.4 549.8,467.8 541.5,466.9C533.2,466.0 524.5,466.9 518.0,463.0Z" fill="url(#gHelixO)" stroke="#3a1800" stroke-width="2.0" stroke-linejoin="round" />
<clipPath id="cpBody"><path d="M518.0,463.0C511.5,459.1 507.1,451.0 502.3,443.4C497.5,435.8 492.5,426.0 489.2,417.3C485.9,408.6 484.1,399.8 482.7,391.1C481.3,382.4 480.5,373.7 480.7,365.0C480.9,356.3 482.1,346.9 484.0,338.8C485.9,330.7 488.8,322.3 491.8,316.6C494.9,310.9 498.8,307.2 502.3,304.8C505.8,302.4 508.4,302.2 512.7,302.2C517.1,302.2 522.5,303.1 528.4,304.8C534.3,306.6 541.9,309.4 548.0,312.7C554.1,316.0 560.6,320.3 565.0,324.4C569.4,328.5 571.8,332.7 574.2,337.5C576.6,342.3 578.3,347.5 579.4,353.2C580.5,358.9 580.8,365.2 580.7,371.5C580.6,377.8 579.9,384.6 578.8,391.1C577.7,397.6 575.8,404.6 574.2,410.7C572.6,416.8 570.5,422.7 569.0,427.7C567.5,432.7 565.2,437.9 565.0,440.8C564.8,443.7 565.4,443.7 567.6,445.0C569.8,446.3 573.7,449.5 578.1,448.6C582.5,447.7 588.6,443.0 593.8,439.5C599.0,436.0 604.5,429.2 609.5,427.7C614.5,426.2 619.8,429.0 623.9,430.3C628.0,431.6 631.9,434.2 634.3,435.6C636.7,437.0 636.0,436.6 638.2,438.8C640.4,441.0 647.2,446.1 647.4,448.6C647.6,451.1 644.1,451.9 639.5,453.9C634.9,455.9 627.5,458.4 619.9,460.4C612.3,462.3 602.5,464.3 593.8,465.6C585.1,466.9 576.3,468.0 567.6,468.2C558.9,468.4 549.8,467.8 541.5,466.9C533.2,466.0 524.5,466.9 518.0,463.0Z"/></clipPath>
<g clip-path="url(#cpBody)"><ellipse cx="535" cy="463" rx="48" ry="9" fill="#5a2400" opacity="0.75" filter="url(#b6)" transform="rotate(8 535 463)"/></g>
<path d="M559.8,333.6C562.0,333.4 565.2,335.5 567.6,338.8C570.0,342.1 572.8,347.8 574.2,353.2C575.6,358.6 576.1,365.2 576.1,371.5C576.1,377.8 575.2,384.6 574.2,391.1C573.2,397.6 571.6,404.6 570.3,410.7C569.0,416.8 567.4,422.9 566.3,427.7C565.2,432.5 565.2,439.1 563.7,439.5C562.2,439.9 559.4,435.1 557.2,430.3C555.0,425.5 552.3,417.2 550.7,410.7C549.1,404.2 547.9,397.6 547.4,391.1C546.9,384.6 547.5,377.8 548.0,371.5C548.5,365.2 549.6,358.4 550.7,353.2C551.8,348.0 553.1,343.4 554.6,340.1C556.1,336.8 557.6,333.8 559.8,333.6Z" fill="url(#gHoleO)" stroke="#2a1000" stroke-width="2.0" stroke-linejoin="round" />
<ellipse cx="515.4" cy="353.2" rx="27" ry="23" fill="url(#gSpot)" transform="rotate(20 515.4 353.2)"/>
<path d="M168.1,721.2C165.8,718.5 166.0,710.2 166.8,704.7C167.7,699.2 169.7,693.1 173.2,688.2C176.7,683.3 181.7,679.0 187.8,675.4C193.9,671.8 201.2,668.7 209.8,666.3C218.4,663.9 229.9,662.0 239.1,660.8C248.2,659.6 261.6,657.8 264.7,659.0C267.8,660.2 261.7,665.4 257.4,668.1C253.1,670.8 244.6,672.4 239.1,675.4C233.6,678.4 229.3,682.7 224.4,686.4C219.5,690.1 214.7,693.7 209.8,697.4C204.9,701.1 200.1,704.4 195.2,708.4C190.3,712.4 185.0,719.1 180.5,721.2C176.0,723.3 170.4,724.0 168.1,721.2Z" fill="#3a8ce4" stroke="#061430" stroke-width="2.0" stroke-linejoin="round" />
<path d="M173.2,717.5C171.8,714.8 172.6,705.9 174.1,701.0C175.6,696.1 177.7,691.2 182.4,688.2C187.1,685.2 195.2,683.9 202.5,682.7C209.8,681.5 225.1,678.8 226.3,680.9C227.5,683.0 215.0,691.3 209.8,695.6C204.6,699.9 199.8,702.9 195.2,706.5C190.6,710.1 186.1,715.7 182.4,717.5C178.7,719.3 174.6,720.2 173.2,717.5Z" fill="#123a70" stroke="none" stroke-width="0.0" stroke-linejoin="round" filter="url(#b1)"/>
<path d="M254.8,605.0C254.8,597.4 253.7,590.9 256.1,585.4C258.5,579.9 262.6,575.8 269.2,572.3C275.8,568.8 286.7,566.1 295.4,564.4C304.1,562.6 312.8,561.1 321.5,561.8C330.2,562.5 340.0,565.1 347.6,568.4C355.2,571.7 360.8,576.4 367.3,581.4C373.9,586.4 379.7,592.7 386.9,598.4C394.1,604.1 407.6,610.2 410.4,615.4C413.2,620.6 405.6,626.1 403.9,629.8C402.1,633.5 402.7,635.2 399.9,637.6C397.1,640.0 390.2,642.9 386.9,644.2C383.6,645.5 384.7,647.0 380.3,645.5C375.9,644.0 366.8,638.7 360.7,635.0C354.6,631.3 348.5,626.3 343.7,623.3C338.9,620.2 335.7,617.4 332.0,616.7C328.3,616.0 325.4,617.3 321.5,619.3C317.6,621.3 311.4,625.5 308.4,628.5C305.3,631.5 304.5,633.9 303.2,637.6C301.9,641.3 307.8,648.3 300.6,650.7C293.4,653.1 267.5,655.3 260.1,652.0C252.7,648.7 257.0,638.9 256.1,631.1C255.2,623.3 254.8,612.6 254.8,605.0Z" fill="#2f7cd2" stroke="#061430" stroke-width="2.0" stroke-linejoin="round" />
<path d="M267.9,593.2C267.2,590.2 269.8,585.1 273.1,582.7C276.4,580.3 282.9,579.0 287.5,578.8C292.1,578.6 298.0,579.4 300.6,581.4C303.2,583.4 304.5,587.8 303.2,590.6C301.9,593.4 297.0,596.7 292.7,598.4C288.4,600.1 281.2,601.9 277.1,601.0C273.0,600.1 268.6,596.2 267.9,593.2Z" fill="#173f78" stroke="none" stroke-width="0.0" stroke-linejoin="round" filter="url(#b3)"/>
<path d="M235.0,692.3C237.2,689.7 244.8,684.4 250.7,680.5C256.6,676.6 264.9,671.2 270.3,668.8C275.8,666.4 279.0,665.2 283.4,666.1C287.8,667.0 291.5,671.4 296.5,674.0C301.5,676.6 309.6,678.1 313.5,681.8C317.4,685.5 320.0,691.0 320.0,696.2C320.0,701.4 316.3,708.2 313.5,713.2C310.7,718.2 306.5,723.2 303.0,726.3C299.5,729.3 295.8,731.7 292.5,731.5C289.2,731.3 286.0,727.6 283.4,725.0C280.8,722.4 281.2,719.1 276.9,715.8C272.5,712.5 263.9,708.7 257.3,705.4C250.8,702.1 241.3,698.4 237.6,696.2C233.9,694.0 232.8,694.9 235.0,692.3Z" fill="#3585dc" stroke="#061430" stroke-width="2.0" stroke-linejoin="round" />
<path d="M180.1,743.3L216.7,710.6L231.1,732.8L216.7,743.3L203.7,752.4L191.9,760.3Z" fill="#2f7fd6" stroke="#061430" stroke-width="2.0" stroke-linejoin="round" />
<g fill="none" stroke-linecap="round" stroke-linejoin="round"><path d="M211.5,748.5C213.7,750.7 220.2,757.2 224.6,761.6C228.9,766.0 233.2,770.5 237.6,774.6C241.9,778.7 246.8,782.9 250.7,786.4C254.6,789.9 257.3,791.0 261.2,795.6C265.1,800.2 270.9,808.7 274.2,813.9C277.5,819.1 279.3,822.5 280.8,826.9C282.3,831.2 283.6,834.5 283.4,840.0C283.1,845.5 282.4,852.7 279.3,859.6C276.2,866.5 270.8,874.6 264.7,881.6C258.6,888.6 250.3,895.3 242.7,901.7C235.1,908.1 218.3,920.3 219.0,920.0C219.7,919.7 246.7,900.7 247.1,900.1C247.5,899.5 229.4,911.4 221.5,916.6C213.6,921.8 206.2,927.2 199.5,931.2C192.8,935.2 184.2,938.9 181.2,940.4" stroke="#061430" stroke-width="16.0"/><path d="M211.5,748.5C213.7,750.7 220.2,757.2 224.6,761.6C228.9,766.0 233.2,770.5 237.6,774.6C241.9,778.7 246.8,782.9 250.7,786.4C254.6,789.9 257.3,791.0 261.2,795.6C265.1,800.2 270.9,808.7 274.2,813.9C277.5,819.1 279.3,822.5 280.8,826.9C282.3,831.2 283.6,834.5 283.4,840.0C283.1,845.5 282.4,852.7 279.3,859.6C276.2,866.5 270.8,874.6 264.7,881.6C258.6,888.6 250.3,895.3 242.7,901.7C235.1,908.1 218.3,920.3 219.0,920.0C219.7,919.7 246.7,900.7 247.1,900.1C247.5,899.5 229.4,911.4 221.5,916.6C213.6,921.8 206.2,927.2 199.5,931.2C192.8,935.2 184.2,938.9 181.2,940.4" stroke="#1d55a0" stroke-width="13.4" transform="translate(-0.4,-0.8)"/><path d="M211.5,748.5C213.7,750.7 220.2,757.2 224.6,761.6C228.9,766.0 233.2,770.5 237.6,774.6C241.9,778.7 246.8,782.9 250.7,786.4C254.6,789.9 257.3,791.0 261.2,795.6C265.1,800.2 270.9,808.7 274.2,813.9C277.5,819.1 279.3,822.5 280.8,826.9C282.3,831.2 283.6,834.5 283.4,840.0C283.1,845.5 282.4,852.7 279.3,859.6C276.2,866.5 270.8,874.6 264.7,881.6C258.6,888.6 250.3,895.3 242.7,901.7C235.1,908.1 218.3,920.3 219.0,920.0C219.7,919.7 246.7,900.7 247.1,900.1C247.5,899.5 229.4,911.4 221.5,916.6C213.6,921.8 206.2,927.2 199.5,931.2C192.8,935.2 184.2,938.9 181.2,940.4" stroke="#3585dc" stroke-width="9.5" transform="translate(-0.9,-1.9)"/><path d="M211.5,748.5C213.7,750.7 220.2,757.2 224.6,761.6C228.9,766.0 233.2,770.5 237.6,774.6C241.9,778.7 246.8,782.9 250.7,786.4C254.6,789.9 257.3,791.0 261.2,795.6C265.1,800.2 270.9,808.7 274.2,813.9C277.5,819.1 279.3,822.5 280.8,826.9C282.3,831.2 283.6,834.5 283.4,840.0C283.1,845.5 282.4,852.7 279.3,859.6C276.2,866.5 270.8,874.6 264.7,881.6C258.6,888.6 250.3,895.3 242.7,901.7C235.1,908.1 218.3,920.3 219.0,920.0C219.7,919.7 246.7,900.7 247.1,900.1C247.5,899.5 229.4,911.4 221.5,916.6C213.6,921.8 206.2,927.2 199.5,931.2C192.8,935.2 184.2,938.9 181.2,940.4" stroke="#4aa6fa" stroke-width="2.7" stroke-opacity="0.85" transform="translate(-1.4,-3.0)"/></g>
<path d="M303.2,637.6C305.8,632.2 307.1,627.4 311.0,624.6C314.9,621.8 321.7,620.1 326.7,620.7C331.7,621.4 336.5,624.6 341.1,628.5C345.7,632.4 348.8,638.3 354.2,644.2C359.6,650.1 366.2,657.7 373.8,663.8C381.4,669.9 389.0,675.8 399.9,680.8C410.8,685.8 423.9,689.5 439.2,693.9C454.4,698.2 474.7,703.1 491.4,706.9C508.1,710.7 524.7,712.4 539.2,716.6C553.7,720.8 568.6,728.6 578.4,732.3C588.2,736.0 591.5,734.9 598.0,738.8C604.5,742.7 612.5,751.6 617.6,755.8C622.7,759.9 627.1,761.0 628.8,763.7C630.4,766.4 633.7,772.2 627.5,772.2C621.3,772.2 601.9,767.1 591.5,763.7C581.1,760.3 574.1,756.0 565.4,751.9C556.7,747.8 550.1,743.8 539.2,738.8C528.3,733.8 512.3,725.9 500.0,722.1C487.7,718.3 479.8,718.9 465.3,716.1C450.8,713.4 428.2,709.1 413.0,705.6C397.8,702.1 384.7,698.2 373.8,695.2C362.9,692.2 356.3,689.9 347.6,687.3C338.9,684.7 330.6,681.7 321.5,679.5C312.4,677.3 297.1,677.9 292.7,674.2C288.3,670.5 293.6,663.4 295.4,657.3C297.1,651.2 300.6,643.0 303.2,637.6Z" fill="url(#gLong)" stroke="#061430" stroke-width="2.0" stroke-linejoin="round" />
<path d="M604.6,779.3L613.7,768.9L625.5,770.2L617.6,780.7Z" fill="#4da3f5" stroke="#061430" stroke-width="1.5" stroke-linejoin="round" />
<path d="M270.3,800.8C273.6,798.0 282.3,789.2 289.9,783.8C297.5,778.3 306.3,772.9 316.1,768.1C325.9,763.3 338.5,759.1 348.8,755.0C359.1,750.9 373.3,745.2 378.2,743.3L379.5,770.7L604.6,780.7L683.0,785.9L714.4,791.1L715.7,797.6L709.2,809.4L656.9,814.6L591.5,817.3L500.0,821.2L380.0,826.7L380.0,852.3L380.0,852.3C369.9,848.5 335.8,836.0 319.6,829.4C303.4,822.8 291.2,817.2 283.0,812.9C274.8,808.6 272.4,805.0 270.3,803.4Z" fill="url(#gArrow1)" stroke="#061430" stroke-width="2.0" stroke-linejoin="round" />
<g fill="none" stroke-linecap="round" stroke-linejoin="round"><path d="M274.2,800.1C270.3,801.5 257.9,805.4 250.7,808.6C243.5,811.8 237.6,816.1 231.1,819.1C224.6,822.1 218.0,825.4 211.5,826.9C205.0,828.4 198.4,828.9 191.9,828.2C185.4,827.6 178.4,825.8 172.3,823.0C166.2,820.2 159.9,815.8 155.3,811.2C150.7,806.6 147.0,801.0 144.8,795.6C142.6,790.2 141.8,784.5 142.2,778.6C142.6,772.7 144.7,766.2 147.5,760.3C150.3,754.4 154.4,749.0 159.2,743.3C164.0,737.6 170.1,732.0 176.2,726.3C182.3,720.6 189.5,715.0 195.8,709.3C202.1,703.6 208.0,697.8 214.1,692.3C220.2,686.8 226.3,681.2 232.4,676.6C238.5,672.0 244.4,668.1 250.7,664.8C257.0,661.5 263.8,659.2 270.3,657.0C276.8,654.8 286.6,652.7 289.9,651.8" stroke="#061430" stroke-width="18.0"/><path d="M274.2,800.1C270.3,801.5 257.9,805.4 250.7,808.6C243.5,811.8 237.6,816.1 231.1,819.1C224.6,822.1 218.0,825.4 211.5,826.9C205.0,828.4 198.4,828.9 191.9,828.2C185.4,827.6 178.4,825.8 172.3,823.0C166.2,820.2 159.9,815.8 155.3,811.2C150.7,806.6 147.0,801.0 144.8,795.6C142.6,790.2 141.8,784.5 142.2,778.6C142.6,772.7 144.7,766.2 147.5,760.3C150.3,754.4 154.4,749.0 159.2,743.3C164.0,737.6 170.1,732.0 176.2,726.3C182.3,720.6 189.5,715.0 195.8,709.3C202.1,703.6 208.0,697.8 214.1,692.3C220.2,686.8 226.3,681.2 232.4,676.6C238.5,672.0 244.4,668.1 250.7,664.8C257.0,661.5 263.8,659.2 270.3,657.0C276.8,654.8 286.6,652.7 289.9,651.8" stroke="#1d55a0" stroke-width="15.4" transform="translate(-0.4,-0.8)"/><path d="M274.2,800.1C270.3,801.5 257.9,805.4 250.7,808.6C243.5,811.8 237.6,816.1 231.1,819.1C224.6,822.1 218.0,825.4 211.5,826.9C205.0,828.4 198.4,828.9 191.9,828.2C185.4,827.6 178.4,825.8 172.3,823.0C166.2,820.2 159.9,815.8 155.3,811.2C150.7,806.6 147.0,801.0 144.8,795.6C142.6,790.2 141.8,784.5 142.2,778.6C142.6,772.7 144.7,766.2 147.5,760.3C150.3,754.4 154.4,749.0 159.2,743.3C164.0,737.6 170.1,732.0 176.2,726.3C182.3,720.6 189.5,715.0 195.8,709.3C202.1,703.6 208.0,697.8 214.1,692.3C220.2,686.8 226.3,681.2 232.4,676.6C238.5,672.0 244.4,668.1 250.7,664.8C257.0,661.5 263.8,659.2 270.3,657.0C276.8,654.8 286.6,652.7 289.9,651.8" stroke="#3585dc" stroke-width="11.5" transform="translate(-0.9,-1.9)"/><path d="M274.2,800.1C270.3,801.5 257.9,805.4 250.7,808.6C243.5,811.8 237.6,816.1 231.1,819.1C224.6,822.1 218.0,825.4 211.5,826.9C205.0,828.4 198.4,828.9 191.9,828.2C185.4,827.6 178.4,825.8 172.3,823.0C166.2,820.2 159.9,815.8 155.3,811.2C150.7,806.6 147.0,801.0 144.8,795.6C142.6,790.2 141.8,784.5 142.2,778.6C142.6,772.7 144.7,766.2 147.5,760.3C150.3,754.4 154.4,749.0 159.2,743.3C164.0,737.6 170.1,732.0 176.2,726.3C182.3,720.6 189.5,715.0 195.8,709.3C202.1,703.6 208.0,697.8 214.1,692.3C220.2,686.8 226.3,681.2 232.4,676.6C238.5,672.0 244.4,668.1 250.7,664.8C257.0,661.5 263.8,659.2 270.3,657.0C276.8,654.8 286.6,652.7 289.9,651.8" stroke="#4aa6fa" stroke-width="3.1" stroke-opacity="0.85" transform="translate(-1.4,-3.0)"/></g>
<path d="M172.9,918.6C174.7,915.1 174.1,921.3 184.8,920.8C195.5,920.3 224.0,915.9 237.1,915.4C250.2,914.9 255.9,915.7 263.2,917.5C270.4,919.3 285.0,922.3 280.6,926.3C276.2,930.3 252.0,934.6 237.1,941.5C222.2,948.4 200.8,964.3 191.4,967.6C182.0,970.9 183.4,965.5 180.5,961.1C177.6,956.8 175.2,948.6 173.9,941.5C172.6,934.4 171.1,922.1 172.9,918.6Z" fill="url(#gCone)" stroke="#061430" stroke-width="2.0" stroke-linejoin="round" />
<path d="M172.9,921.9C174.3,919.0 179.8,921.2 182.7,924.1C185.6,927.0 188.9,932.4 190.3,939.3C191.8,946.2 192.9,961.9 191.4,965.4C189.9,968.9 184.4,964.0 181.6,960.0C178.8,956.0 175.8,947.9 174.4,941.5C173.0,935.1 171.5,924.8 172.9,921.9Z" fill="#4a9ff0" stroke="#061430" stroke-width="1.5" stroke-linejoin="round" />
<g fill="none" stroke-linecap="round" stroke-linejoin="round"><path d="M87.1,1195.9C85.3,1199.5 79.8,1210.5 76.2,1217.7C72.6,1225.0 69.5,1232.2 65.3,1239.4C61.1,1246.7 55.0,1255.4 51.2,1261.2C47.4,1267.0 43.5,1270.3 42.4,1274.3C41.3,1278.3 41.9,1282.5 44.6,1285.2C47.3,1287.9 53.5,1290.3 58.8,1290.6C64.1,1290.9 73.3,1287.5 76.2,1286.9" stroke="#061430" stroke-width="14.5"/><path d="M87.1,1195.9C85.3,1199.5 79.8,1210.5 76.2,1217.7C72.6,1225.0 69.5,1232.2 65.3,1239.4C61.1,1246.7 55.0,1255.4 51.2,1261.2C47.4,1267.0 43.5,1270.3 42.4,1274.3C41.3,1278.3 41.9,1282.5 44.6,1285.2C47.3,1287.9 53.5,1290.3 58.8,1290.6C64.1,1290.9 73.3,1287.5 76.2,1286.9" stroke="#1d55a0" stroke-width="11.9" transform="translate(-0.4,-0.8)"/><path d="M87.1,1195.9C85.3,1199.5 79.8,1210.5 76.2,1217.7C72.6,1225.0 69.5,1232.2 65.3,1239.4C61.1,1246.7 55.0,1255.4 51.2,1261.2C47.4,1267.0 43.5,1270.3 42.4,1274.3C41.3,1278.3 41.9,1282.5 44.6,1285.2C47.3,1287.9 53.5,1290.3 58.8,1290.6C64.1,1290.9 73.3,1287.5 76.2,1286.9" stroke="#3585dc" stroke-width="8.0" transform="translate(-0.9,-1.9)"/><path d="M87.1,1195.9C85.3,1199.5 79.8,1210.5 76.2,1217.7C72.6,1225.0 69.5,1232.2 65.3,1239.4C61.1,1246.7 55.0,1255.4 51.2,1261.2C47.4,1267.0 43.5,1270.3 42.4,1274.3C41.3,1278.3 41.9,1282.5 44.6,1285.2C47.3,1287.9 53.5,1290.3 58.8,1290.6C64.1,1290.9 73.3,1287.5 76.2,1286.9" stroke="#4aa6fa" stroke-width="2.5" stroke-opacity="0.85" transform="translate(-1.4,-3.0)"/></g>
<g fill="none" stroke-linecap="round" stroke-linejoin="round"><path d="M267.3,1040.4C266.2,1041.1 263.6,1042.2 261.0,1044.6C258.4,1047.0 254.9,1050.7 251.6,1055.0C248.3,1059.3 244.1,1065.5 241.2,1070.7C238.2,1075.9 236.0,1080.1 233.9,1086.4C231.8,1092.8 228.0,1102.2 228.6,1108.8C229.2,1115.4 232.6,1120.8 237.3,1126.3C242.0,1131.8 249.6,1137.2 256.9,1141.5C264.1,1145.8 272.8,1150.1 280.8,1152.4C288.8,1154.8 297.1,1155.6 304.7,1155.6C312.3,1155.6 317.4,1155.1 326.5,1152.4C335.6,1149.7 348.3,1144.8 359.2,1139.3C370.1,1133.8 381.6,1126.4 391.8,1119.7C402.0,1113.0 415.4,1102.5 420.1,1099.0" stroke="#061430" stroke-width="14.5"/><path d="M267.3,1040.4C266.2,1041.1 263.6,1042.2 261.0,1044.6C258.4,1047.0 254.9,1050.7 251.6,1055.0C248.3,1059.3 244.1,1065.5 241.2,1070.7C238.2,1075.9 236.0,1080.1 233.9,1086.4C231.8,1092.8 228.0,1102.2 228.6,1108.8C229.2,1115.4 232.6,1120.8 237.3,1126.3C242.0,1131.8 249.6,1137.2 256.9,1141.5C264.1,1145.8 272.8,1150.1 280.8,1152.4C288.8,1154.8 297.1,1155.6 304.7,1155.6C312.3,1155.6 317.4,1155.1 326.5,1152.4C335.6,1149.7 348.3,1144.8 359.2,1139.3C370.1,1133.8 381.6,1126.4 391.8,1119.7C402.0,1113.0 415.4,1102.5 420.1,1099.0" stroke="#1d55a0" stroke-width="11.9" transform="translate(-0.4,-0.8)"/><path d="M267.3,1040.4C266.2,1041.1 263.6,1042.2 261.0,1044.6C258.4,1047.0 254.9,1050.7 251.6,1055.0C248.3,1059.3 244.1,1065.5 241.2,1070.7C238.2,1075.9 236.0,1080.1 233.9,1086.4C231.8,1092.8 228.0,1102.2 228.6,1108.8C229.2,1115.4 232.6,1120.8 237.3,1126.3C242.0,1131.8 249.6,1137.2 256.9,1141.5C264.1,1145.8 272.8,1150.1 280.8,1152.4C288.8,1154.8 297.1,1155.6 304.7,1155.6C312.3,1155.6 317.4,1155.1 326.5,1152.4C335.6,1149.7 348.3,1144.8 359.2,1139.3C370.1,1133.8 381.6,1126.4 391.8,1119.7C402.0,1113.0 415.4,1102.5 420.1,1099.0" stroke="#3585dc" stroke-width="8.0" transform="translate(-0.9,-1.9)"/><path d="M267.3,1040.4C266.2,1041.1 263.6,1042.2 261.0,1044.6C258.4,1047.0 254.9,1050.7 251.6,1055.0C248.3,1059.3 244.1,1065.5 241.2,1070.7C238.2,1075.9 236.0,1080.1 233.9,1086.4C231.8,1092.8 228.0,1102.2 228.6,1108.8C229.2,1115.4 232.6,1120.8 237.3,1126.3C242.0,1131.8 249.6,1137.2 256.9,1141.5C264.1,1145.8 272.8,1150.1 280.8,1152.4C288.8,1154.8 297.1,1155.6 304.7,1155.6C312.3,1155.6 317.4,1155.1 326.5,1152.4C335.6,1149.7 348.3,1144.8 359.2,1139.3C370.1,1133.8 381.6,1126.4 391.8,1119.7C402.0,1113.0 415.4,1102.5 420.1,1099.0" stroke="#4aa6fa" stroke-width="2.5" stroke-opacity="0.85" transform="translate(-1.4,-3.0)"/></g>
<path d="M278.8,981.8C283.7,978.8 291.9,976.8 298.7,974.5C305.5,972.2 314.4,969.2 319.6,968.2C324.8,967.2 327.5,966.8 330.1,968.2C332.7,969.6 334.6,973.1 335.3,976.6C336.0,980.1 335.4,984.5 334.2,989.2C333.0,993.9 330.8,999.0 328.0,1004.8C325.2,1010.5 321.5,1017.8 317.5,1023.7C313.5,1029.6 308.8,1035.5 303.9,1040.4C299.0,1045.3 292.4,1049.8 288.2,1052.9C284.0,1056.0 282.3,1059.6 278.8,1059.2C275.3,1058.8 271.0,1054.5 267.3,1050.8C263.6,1047.1 259.9,1041.5 256.9,1037.3C253.9,1033.1 249.2,1030.7 249.5,1025.8C249.8,1020.9 255.7,1013.6 259.0,1008.0C262.3,1002.4 266.1,996.7 269.4,992.3C272.7,987.9 273.9,984.8 278.8,981.8Z" fill="url(#gLH)" stroke="#061430" stroke-width="2.0" stroke-linejoin="round" />
<path d="M282.0,989.2C285.1,989.0 286.5,1000.1 287.2,1006.9C287.9,1013.7 288.4,1024.3 286.1,1029.9C283.8,1035.5 278.0,1041.1 273.6,1040.4C269.2,1039.7 260.9,1031.2 260.0,1025.8C259.1,1020.4 264.7,1014.1 268.4,1008.0C272.1,1001.9 278.9,989.4 282.0,989.2Z" fill="#ffffff" stroke="none" stroke-width="0.0" stroke-linejoin="round" opacity="0.9" filter="url(#b3)"/>
<path d="M415.6,1087.3L443.9,1056.9L476.5,1017.7L507.0,974.1L541.8,939.3L563.6,921.9L548.3,939.3L520.0,976.3L493.9,1013.3L472.2,1050.3L454.7,1083.0L441.7,1110.2Z" fill="#2f7cd4" stroke="#061430" stroke-width="2.0" stroke-linejoin="round" />
<path d="M650.0,864.2C642.9,868.0 621.5,879.3 607.1,887.1C592.7,894.9 578.1,903.0 563.6,911.0C549.1,919.0 534.5,926.6 520.0,935.0C505.5,943.4 491.0,952.4 476.5,961.1C462.0,969.8 447.5,978.5 433.0,987.2C418.5,995.9 403.9,1004.6 389.4,1013.3C374.9,1022.0 358.6,1031.4 345.9,1039.4C333.2,1047.4 324.2,1053.6 313.3,1061.2C302.4,1068.8 289.3,1078.0 280.6,1085.2C271.9,1092.4 271.7,1095.5 261.2,1104.5C250.7,1113.5 232.2,1128.4 217.7,1139.3C203.2,1150.2 187.9,1159.8 174.1,1169.8C160.3,1179.8 141.5,1194.3 135.0,1199.2L117.5,1183.9L117.5,1183.9C115.3,1189.5 108.8,1206.6 104.5,1217.7C100.2,1228.8 95.8,1240.5 91.4,1250.3C87.1,1260.1 81.5,1270.5 78.4,1276.4C75.3,1282.3 70.7,1283.6 72.9,1285.6C75.1,1287.6 83.6,1289.2 91.4,1288.4C99.2,1287.6 109.5,1284.2 119.7,1280.8C129.9,1277.3 141.5,1272.0 152.4,1267.7C163.3,1263.4 179.6,1256.9 185.0,1254.7L169.8,1236.2L169.8,1236.2C176.0,1232.4 193.4,1221.8 206.8,1213.3C220.2,1204.8 237.6,1194.4 250.3,1185.0C263.0,1175.6 272.1,1166.5 283.0,1156.7C293.9,1146.9 304.7,1136.5 315.6,1126.3C326.5,1116.1 337.8,1104.5 348.3,1095.8C358.8,1087.1 368.1,1082.2 378.6,1074.3C389.1,1066.3 400.3,1056.8 411.2,1048.1C422.1,1039.4 433.0,1030.7 443.9,1022.0C454.8,1013.3 466.0,1004.2 476.5,995.9C487.0,987.6 496.1,980.4 507.0,972.0C517.9,963.6 528.7,955.2 541.8,945.8C554.9,936.4 570.9,925.2 585.4,915.4C599.9,905.6 618.1,894.2 628.9,887.1C639.7,880.0 646.5,875.3 650.0,872.9Z" fill="url(#gStrand3)" stroke="#061430" stroke-width="2.0" stroke-linejoin="round" />
<ellipse cx="118" cy="1268" rx="36" ry="7" fill="#fff" opacity="0.95" filter="url(#b3)" transform="rotate(-19 118 1268)"/>
<g fill="none" stroke-linecap="round" stroke-linejoin="round"><path d="M672.0,851.0C675.0,851.5 686.0,852.8 690.0,854.0C694.0,855.2 692.9,856.7 696.1,858.4C699.3,860.1 702.7,861.1 709.2,864.3C715.7,867.5 724.7,872.8 735.3,877.4C745.9,882.0 763.8,889.1 772.8,892.2C781.8,895.3 786.5,895.2 789.3,895.8" stroke="#061430" stroke-width="17.0"/><path d="M672.0,851.0C675.0,851.5 686.0,852.8 690.0,854.0C694.0,855.2 692.9,856.7 696.1,858.4C699.3,860.1 702.7,861.1 709.2,864.3C715.7,867.5 724.7,872.8 735.3,877.4C745.9,882.0 763.8,889.1 772.8,892.2C781.8,895.3 786.5,895.2 789.3,895.8" stroke="#1d55a0" stroke-width="14.4" transform="translate(-0.4,-0.8)"/><path d="M672.0,851.0C675.0,851.5 686.0,852.8 690.0,854.0C694.0,855.2 692.9,856.7 696.1,858.4C699.3,860.1 702.7,861.1 709.2,864.3C715.7,867.5 724.7,872.8 735.3,877.4C745.9,882.0 763.8,889.1 772.8,892.2C781.8,895.3 786.5,895.2 789.3,895.8" stroke="#3585dc" stroke-width="10.5" transform="translate(-0.9,-1.9)"/><path d="M672.0,851.0C675.0,851.5 686.0,852.8 690.0,854.0C694.0,855.2 692.9,856.7 696.1,858.4C699.3,860.1 702.7,861.1 709.2,864.3C715.7,867.5 724.7,872.8 735.3,877.4C745.9,882.0 763.8,889.1 772.8,892.2C781.8,895.3 786.5,895.2 789.3,895.8" stroke="#4aa6fa" stroke-width="2.9" stroke-opacity="0.85" transform="translate(-1.4,-3.0)"/></g>
<path d="M690.0,846.0L669.9,841.0L643.8,838.4L608.5,839.5L603.0,851.0L603.0,851.0C600.1,851.6 595.6,852.4 585.4,854.4C575.2,856.4 556.3,860.2 541.8,863.1C527.3,866.0 512.8,868.5 498.3,871.8C483.8,875.1 469.2,879.1 454.7,882.7C440.2,886.3 425.7,890.0 411.2,893.6C396.7,897.2 382.2,900.9 367.7,904.5C353.2,908.1 338.6,911.8 324.1,915.4C309.6,919.0 295.1,921.9 280.6,926.3C266.1,930.6 249.8,936.1 237.1,941.5C224.4,946.9 215.3,952.4 204.4,958.9C193.5,965.4 180.9,973.8 171.8,980.7C162.7,987.6 156.9,993.4 150.0,1000.3C143.1,1007.1 137.5,1013.9 130.6,1021.8C123.7,1029.7 114.6,1039.6 108.8,1047.9C103.0,1056.2 99.4,1063.5 95.8,1071.8C92.2,1080.1 89.6,1088.9 87.1,1098.0C84.5,1107.1 83.0,1116.5 80.5,1126.3C78.0,1136.1 74.7,1146.5 71.8,1156.7C68.9,1166.9 65.9,1177.0 63.1,1187.2C60.3,1197.4 57.5,1208.6 54.9,1217.7C52.3,1226.8 49.8,1234.5 47.5,1241.6C45.2,1248.7 40.4,1256.5 41.4,1260.1C42.4,1263.7 49.7,1266.5 53.3,1263.4C56.9,1260.3 59.9,1249.2 63.1,1241.6C66.3,1234.0 68.3,1226.0 72.3,1217.7C76.3,1209.4 82.3,1200.3 87.1,1191.6C91.9,1182.9 96.1,1174.1 101.2,1165.4C106.3,1156.7 111.9,1148.0 117.5,1139.3C123.1,1130.6 129.6,1121.5 135.0,1113.2C140.4,1104.9 143.9,1098.9 150.0,1089.5C156.1,1080.1 164.6,1066.7 171.8,1056.9C179.1,1047.1 184.4,1039.4 193.5,1030.7C202.6,1022.0 215.3,1011.9 226.2,1004.6C237.1,997.4 247.9,992.3 258.8,987.2C269.7,982.1 280.6,977.7 291.5,974.1C302.4,970.5 311.4,968.3 324.1,965.4C336.8,962.5 353.2,960.0 367.7,956.7C382.2,953.4 396.7,949.8 411.2,945.8C425.7,941.8 440.2,937.1 454.7,932.8C469.2,928.4 483.8,924.4 498.3,919.7C512.8,915.0 527.3,909.6 541.8,904.5C556.3,899.4 577.4,892.1 585.4,889.2C593.4,886.3 589.2,887.4 590.0,887.0L588.0,895.0L626.4,876.7L663.0,859.5L690.0,862.0Z" fill="url(#gStrand2)" stroke="#061430" stroke-width="2.0" stroke-linejoin="round" />
<path d="M124.1,1032.0C127.4,1028.7 137.1,1018.1 143.9,1012.2C150.7,1006.3 157.8,1001.4 164.8,996.5C171.8,991.6 182.3,985.2 185.8,982.9" fill="none" stroke="#7cc4ff" stroke-width="3" stroke-linecap="round" opacity="0.8" filter="url(#b1)"/>
<line x1="405.2" y1="583.4" x2="470.5" y2="556.6" stroke="#3c3c3c" stroke-width="15.9" stroke-linecap="round"/>
<line x1="422.2" y1="576.5" x2="452.2" y2="563.8" stroke="#3a2a1a" stroke-width="15.9" stroke-linecap="butt"/>
<line x1="452.2" y1="615.4" x2="491.4" y2="595.8" stroke="#3c3c3c" stroke-width="15.9" stroke-linecap="round"/>
<line x1="452.2" y1="615.4" x2="477.1" y2="603.0" stroke="#3a3a00" stroke-width="15.9" stroke-linecap="butt"/>
<line x1="431.3" y1="522.6" x2="437.8" y2="572.3" stroke="#3a2a1a" stroke-width="15.9" stroke-linecap="round"/>
<line x1="437.8" y1="572.3" x2="444.4" y2="594.5" stroke="#3a2a1a" stroke-width="15.9" stroke-linecap="butt"/>
<line x1="444.4" y1="594.5" x2="452.2" y2="615.4" stroke="#3a3a00" stroke-width="15.9" stroke-linecap="round"/>
<line x1="405.2" y1="583.4" x2="470.5" y2="556.6" stroke="#f8f8f8" stroke-width="12.5" stroke-linecap="round" transform="translate(-0.3,-0.5)"/>
<line x1="422.2" y1="576.5" x2="452.2" y2="563.8" stroke="#f0c79a" stroke-width="12.5" stroke-linecap="butt" transform="translate(-0.3,-0.5)"/>
<line x1="452.2" y1="615.4" x2="491.4" y2="595.8" stroke="#f8f8f8" stroke-width="12.5" stroke-linecap="round" transform="translate(-0.3,-0.5)"/>
<line x1="452.2" y1="615.4" x2="477.1" y2="603.0" stroke="#eeee00" stroke-width="12.5" stroke-linecap="butt" transform="translate(-0.3,-0.5)"/>
<line x1="431.3" y1="522.6" x2="437.8" y2="572.3" stroke="#f0c79a" stroke-width="12.5" stroke-linecap="round" transform="translate(-0.3,-0.5)"/>
<line x1="437.8" y1="572.3" x2="444.4" y2="594.5" stroke="#f0c79a" stroke-width="12.5" stroke-linecap="butt" transform="translate(-0.3,-0.5)"/>
<line x1="444.4" y1="594.5" x2="452.2" y2="615.4" stroke="#eeee00" stroke-width="12.5" stroke-linecap="round" transform="translate(-0.3,-0.5)"/>
<line x1="483.6" y1="614.4" x2="586.0" y2="612.0" stroke="#8c8c8c" stroke-width="2.2" stroke-dasharray="13.5,9"/>
<line x1="586.0" y1="732.4" x2="619.0" y2="659.2" stroke="#3a2a1a" stroke-width="15.9" stroke-linecap="butt"/>
<line x1="619.0" y1="659.2" x2="659.2" y2="661.0" stroke="#3c3c3c" stroke-width="15.9" stroke-linecap="round"/>
<line x1="619.0" y1="659.2" x2="642.7" y2="660.1" stroke="#3a2a1a" stroke-width="15.9" stroke-linecap="butt"/>
<line x1="591.5" y1="609.8" x2="630.8" y2="606.1" stroke="#3c3c3c" stroke-width="15.9" stroke-linecap="round"/>
<line x1="591.5" y1="609.8" x2="617.1" y2="607.6" stroke="#3a3a00" stroke-width="15.9" stroke-linecap="butt"/>
<line x1="619.0" y1="659.2" x2="605.2" y2="635.4" stroke="#3a2a1a" stroke-width="15.9" stroke-linecap="round"/>
<line x1="605.2" y1="635.4" x2="591.5" y2="609.8" stroke="#3a3a00" stroke-width="15.9" stroke-linecap="round"/>
<line x1="586.0" y1="732.4" x2="619.0" y2="659.2" stroke="#f0c79a" stroke-width="12.5" stroke-linecap="butt" transform="translate(-0.3,-0.5)"/>
<line x1="619.0" y1="659.2" x2="659.2" y2="661.0" stroke="#f8f8f8" stroke-width="12.5" stroke-linecap="round" transform="translate(-0.3,-0.5)"/>
<line x1="619.0" y1="659.2" x2="642.7" y2="660.1" stroke="#f0c79a" stroke-width="12.5" stroke-linecap="butt" transform="translate(-0.3,-0.5)"/>
<line x1="591.5" y1="609.8" x2="630.8" y2="606.1" stroke="#f8f8f8" stroke-width="12.5" stroke-linecap="round" transform="translate(-0.3,-0.5)"/>
<line x1="591.5" y1="609.8" x2="617.1" y2="607.6" stroke="#eeee00" stroke-width="12.5" stroke-linecap="butt" transform="translate(-0.3,-0.5)"/>
<line x1="619.0" y1="659.2" x2="605.2" y2="635.4" stroke="#f0c79a" stroke-width="12.5" stroke-linecap="round" transform="translate(-0.3,-0.5)"/>
<line x1="605.2" y1="635.4" x2="591.5" y2="609.8" stroke="#eeee00" stroke-width="12.5" stroke-linecap="round" transform="translate(-0.3,-0.5)"/>
<circle cx="613.5" cy="652.8" r="7.5" fill="#f4f4f4" stroke="#3c3c3c" stroke-width="1.4"/>
<text font-family="'Liberation Sans',sans-serif" font-size="60.14" font-weight="bold" transform="translate(250.54,610.60) scale(0.9409,1)" fill="#000" stroke="#000" stroke-width="0.0" stroke-linejoin="round" filter="url(#lab)">C316</text>
<text font-family="'Liberation Sans',sans-serif" font-size="60.57" font-weight="bold" transform="translate(607.35,760.60) scale(0.9291,1)" fill="#000" stroke="#000" stroke-width="0.0" stroke-linejoin="round" filter="url(#lab)">C300</text>
<text font-family="'Liberation Sans',sans-serif" font-size="48.29" font-weight="normal" transform="translate(429.84,661.80) scale(1.0657,1)" fill="#000" stroke="#000" stroke-width="1.1" stroke-linejoin="round" filter="url(#lab)">0.4 nm</text>
<text font-family="'Liberation Sans',sans-serif" fill="#000" stroke="#000" stroke-width="1.5" stroke-linejoin="round" filter="url(#bigsh)"><tspan x="27.97" y="334.00" font-size="141.31" textLength="83.58" lengthAdjust="spacingAndGlyphs">A</tspan><tspan x="122.34" y="329.80" font-size="139.04" textLength="35.35" lengthAdjust="spacingAndGlyphs">)</tspan></text>
<text font-family="'Liberation Sans',sans-serif" fill="#000" stroke="#000" stroke-width="1.5" stroke-linejoin="round" filter="url(#bigsh)"><tspan x="1001.00" y="148.80" font-size="140.29" textLength="77.55" lengthAdjust="spacingAndGlyphs">B</tspan><tspan x="1087.56" y="143.34" font-size="138.40" textLength="34.71" lengthAdjust="spacingAndGlyphs">)</tspan></text>
<text font-family="'Liberation Sans',sans-serif" fill="#000" stroke="#000" stroke-width="1.5" stroke-linejoin="round" filter="url(#bigsh)"><tspan x="999.20" y="888.42" font-size="138.31" textLength="80.82" lengthAdjust="spacingAndGlyphs">C</tspan><tspan x="1086.46" y="884.49" font-size="138.61" textLength="34.58" lengthAdjust="spacingAndGlyphs">)</tspan></text>
</g>
<g filter="url(#soft2)">
<line x1="1302.7" y1="50.2" x2="1302.7" y2="650.1" stroke="#fcefee" stroke-width="2"/>
<line x1="1392.0" y1="50.2" x2="1392.0" y2="650.1" stroke="#fcefee" stroke-width="2"/>
<line x1="1481.4" y1="50.2" x2="1481.4" y2="650.1" stroke="#fcefee" stroke-width="2"/>
<line x1="1570.8" y1="50.2" x2="1570.8" y2="650.1" stroke="#fcefee" stroke-width="2"/>
<line x1="1660.2" y1="50.2" x2="1660.2" y2="650.1" stroke="#fcefee" stroke-width="2"/>
<line x1="1749.5" y1="50.2" x2="1749.5" y2="650.1" stroke="#fcefee" stroke-width="2"/>
<line x1="1838.9" y1="50.2" x2="1838.9" y2="650.1" stroke="#fcefee" stroke-width="2"/>
<line x1="1928.3" y1="50.2" x2="1928.3" y2="650.1" stroke="#fcefee" stroke-width="2"/>
<line x1="2017.6" y1="50.2" x2="2017.6" y2="650.1" stroke="#fcefee" stroke-width="2"/>
<line x1="1213.3" y1="116.8" x2="2107.0" y2="116.8" stroke="#f0f3f8" stroke-width="2"/>
<line x1="1213.3" y1="266.4" x2="2107.0" y2="266.4" stroke="#f0f3f8" stroke-width="2"/>
<line x1="1213.3" y1="416.1" x2="2107.0" y2="416.1" stroke="#f0f3f8" stroke-width="2"/>
<line x1="1213.3" y1="565.7" x2="2107.0" y2="565.7" stroke="#f0f3f8" stroke-width="2"/>
<g fill="none" stroke-linejoin="round" stroke-linecap="round">
<path d="M1213.3,525.4L1215.1,428.4L1216.9,422.5L1218.7,417.0L1220.4,388.2L1222.2,430.6L1224.0,450.3L1225.8,470.6L1227.6,458.0L1229.4,451.1L1231.2,410.4L1233.0,369.6L1234.7,347.3L1236.5,332.1L1238.3,342.0L1240.1,354.8L1241.9,399.5L1243.7,440.6L1245.5,453.2L1247.3,462.8L1249.0,392.9L1250.8,436.4L1252.6,477.4L1254.4,510.9L1256.2,550.4L1258.0,498.3L1259.8,443.2L1261.6,325.9L1263.3,302.3L1265.1,315.0L1266.9,324.4L1268.7,305.6L1270.5,279.3L1272.3,301.5L1274.1,329.0L1275.9,383.5L1277.6,451.0L1279.4,512.0L1281.2,519.8L1283.0,523.8L1284.8,529.1L1286.6,502.5L1288.4,482.2L1290.2,470.4L1291.9,517.7L1293.7,565.1L1295.5,602.4L1297.3,577.5L1299.1,549.8L1300.9,529.4L1302.7,489.2L1304.5,444.7L1306.2,492.1L1308.0,538.7L1309.8,544.8L1311.6,553.5L1313.4,572.2L1315.2,588.1L1317.0,572.3L1318.8,581.3L1320.5,594.1L1322.3,586.8L1324.1,559.7L1325.9,593.4L1327.7,587.5L1329.5,586.5L1331.3,589.1L1333.1,591.1L1334.8,592.1L1336.6,603.3L1338.4,577.7L1340.2,605.9L1342.0,591.3L1343.8,580.2L1345.6,580.9L1347.4,580.8L1349.1,582.4L1350.9,583.6L1352.7,589.9L1354.5,583.7L1356.3,579.7L1358.1,593.1L1359.9,605.4L1361.7,580.4L1363.4,586.9L1365.2,583.2L1367.0,583.0L1368.8,607.3L1370.6,580.1L1372.4,580.0L1374.2,586.0L1376.0,585.0L1377.7,591.8L1379.5,607.7L1381.3,603.1L1383.1,594.4L1384.9,584.1L1386.7,585.1L1388.5,593.1L1390.3,582.7L1392.0,603.3L1393.8,589.1L1395.6,583.7L1397.4,574.7L1399.2,613.0L1401.0,612.3L1402.8,601.7L1404.6,592.2L1406.3,582.4L1408.1,605.6L1409.9,601.1L1411.7,590.7L1413.5,539.7L1415.3,613.5L1417.1,597.7L1418.9,581.8L1420.6,582.8L1422.4,604.6L1424.2,565.7L1426.0,598.4L1427.8,582.0L1429.6,584.4L1431.4,592.1L1433.2,583.2L1434.9,593.4L1436.7,582.7L1438.5,600.7L1440.3,541.8L1442.1,591.8L1443.9,583.9L1445.7,586.4L1447.4,591.1L1449.2,612.8L1451.0,611.5L1452.8,610.2L1454.6,609.1L1456.4,595.1L1458.2,565.7L1460.0,590.5L1461.7,595.7L1463.5,603.1L1465.3,599.2L1467.1,594.0L1468.9,588.2L1470.7,602.3L1472.5,603.7L1474.3,565.7L1476.0,587.0L1477.8,584.4L1479.6,595.3L1481.4,559.7L1483.2,612.2L1485.0,603.3L1486.8,598.5L1488.6,584.4L1490.3,589.7L1492.1,606.7L1493.9,614.0L1495.7,592.8L1497.5,595.9L1499.3,613.2L1501.1,604.4L1502.9,613.7L1504.6,585.2L1506.4,585.8L1508.2,588.8L1510.0,599.2L1511.8,614.4L1513.6,609.9L1515.4,614.3L1517.2,601.0L1518.9,614.7L1520.7,614.0L1522.5,593.1L1524.3,587.2L1526.1,609.3L1527.9,535.8L1529.7,597.9L1531.5,550.7L1533.2,610.2L1535.0,611.8L1536.8,612.3L1538.6,614.5L1540.4,613.3L1542.2,592.9L1544.0,592.6L1545.8,588.1L1547.5,596.0L1549.3,602.8L1551.1,612.9L1552.9,608.4L1554.7,615.0L1556.5,616.0L1558.3,603.4L1560.1,590.8L1561.8,591.7L1563.6,590.2L1565.4,565.7L1567.2,609.7L1569.0,605.1L1570.8,608.9L1572.6,614.8L1574.4,616.4L1576.1,616.4L1577.9,611.2L1579.7,604.9L1581.5,609.8L1583.3,592.2L1585.1,597.9L1586.9,596.0L1588.7,591.5L1590.4,608.8L1592.2,616.4L1594.0,602.9L1595.8,611.3L1597.6,593.2L1599.4,596.8L1601.2,540.3L1603.0,593.1L1604.7,616.1L1606.5,602.1L1608.3,611.0L1610.1,565.7L1611.9,611.9L1613.7,598.0L1615.5,593.6L1617.3,592.0L1619.0,615.0L1620.8,613.6L1622.6,616.6L1624.4,613.2L1626.2,600.5L1628.0,611.5L1629.8,603.9L1631.6,601.5L1633.3,593.4L1635.1,609.9L1636.9,559.7L1638.7,614.1L1640.5,591.5L1642.3,591.2L1644.1,600.5L1645.9,600.5L1647.6,601.9L1649.4,601.2L1651.2,606.0L1653.0,608.7L1654.8,615.3L1656.6,614.0L1658.4,591.9L1660.2,594.4L1661.9,600.3L1663.7,605.8L1665.5,604.1L1667.3,600.1L1669.1,610.3L1670.9,604.0L1672.7,601.4L1674.4,546.2L1676.2,613.7L1678.0,615.1L1679.8,615.6L1681.6,599.1L1683.4,616.5L1685.2,613.4L1687.0,565.7L1688.7,613.1L1690.5,606.4L1692.3,558.2L1694.1,599.7L1695.9,604.7L1697.7,611.1L1699.5,608.1L1701.3,574.7L1703.0,606.2L1704.8,614.7L1706.6,615.9L1708.4,615.9L1710.2,616.2L1712.0,598.1L1713.8,598.4L1715.6,605.4L1717.3,591.5L1719.1,607.1L1720.9,596.6L1722.7,593.9L1724.5,614.9L1726.3,616.3L1728.1,615.7L1729.9,599.1L1731.6,591.5L1733.4,612.5L1735.2,595.5L1737.0,606.1L1738.8,609.3L1740.6,577.7L1742.4,610.2L1744.2,580.7L1745.9,615.9L1747.7,583.7L1749.5,604.7L1751.3,590.0L1753.1,589.6L1754.9,596.8L1756.7,615.7L1758.5,612.9L1760.2,614.7L1762.0,590.9L1763.8,593.5L1765.6,609.1L1767.4,595.4L1769.2,595.7L1771.0,615.4L1772.8,613.5L1774.5,610.2L1776.3,606.1L1778.1,603.3L1779.9,608.0L1781.7,603.3L1783.5,610.5L1785.3,614.1L1787.1,592.7L1788.8,577.7L1790.6,596.9L1792.4,615.4L1794.2,580.7L1796.0,597.0L1797.8,614.3L1799.6,595.8L1801.4,606.3L1803.1,600.2L1804.9,604.8L1806.7,601.9L1808.5,592.3L1810.3,604.7L1812.1,591.1L1813.9,608.1L1815.7,613.9L1817.4,599.6L1819.2,613.5L1821.0,611.4L1822.8,596.4L1824.6,591.6L1826.4,547.7L1828.2,544.7L1830.0,590.2L1831.7,590.5L1833.5,600.9L1835.3,610.1L1837.1,609.5L1838.9,615.1L1840.7,611.3L1842.5,608.8L1844.3,607.5L1846.0,593.2L1847.8,603.2L1849.6,615.5L1851.4,597.3L1853.2,589.6L1855.0,611.8L1856.8,583.7L1858.6,609.5L1860.3,580.7L1862.1,610.8L1863.9,580.7L1865.7,604.5L1867.5,586.7L1869.3,593.4L1871.1,593.5L1872.9,593.4L1874.6,592.7L1876.4,615.9L1878.2,615.3L1880.0,607.6L1881.8,599.5L1883.6,591.6L1885.4,594.7L1887.1,604.1L1888.9,580.7L1890.7,606.8L1892.5,602.2L1894.3,596.2L1896.1,605.9L1897.9,612.8L1899.7,614.3L1901.4,595.9L1903.2,591.2L1905.0,580.7L1906.8,592.2L1908.6,592.5L1910.4,583.7L1912.2,595.8L1914.0,612.6L1915.7,609.5L1917.5,577.7L1919.3,598.9L1921.1,609.4L1922.9,607.3L1924.7,586.7L1926.5,591.4L1928.3,608.5L1930.0,614.0L1931.8,598.5L1933.6,580.7L1935.4,602.4L1937.2,610.2L1939.0,607.5L1940.8,616.3L1942.6,602.7L1944.3,609.6L1946.1,614.0L1947.9,590.5L1949.7,592.4L1951.5,589.6L1953.3,591.0L1955.1,603.0L1956.9,602.7L1958.6,590.8L1960.4,598.9L1962.2,597.6L1964.0,596.5L1965.8,611.8L1967.6,605.4L1969.4,610.2L1971.2,615.4L1972.9,599.1L1974.7,595.6L1976.5,600.7L1978.3,612.6L1980.1,616.5L1981.9,606.7L1983.7,606.3L1985.5,616.1L1987.2,610.7L1989.0,616.0L1990.8,610.3L1992.6,604.7L1994.4,600.3L1996.2,600.6L1998.0,601.2L1999.8,589.6L2001.5,611.7L2003.3,574.7L2005.1,609.5L2006.9,559.7L2008.7,596.9L2010.5,535.8L2012.3,616.4L2014.1,559.7L2015.8,607.5L2017.6,583.7L2019.4,591.0L2021.2,614.6L2023.0,603.9L2024.8,610.0L2026.6,595.2L2028.4,612.5L2030.1,608.4L2031.9,607.2L2033.7,577.7L2035.5,611.2L2037.3,616.4L2039.1,606.2L2040.9,594.3L2042.7,601.8L2044.4,555.2L2046.2,605.4L2048.0,598.1L2049.8,577.7L2051.6,604.7L2053.4,591.6L2055.2,611.7L2057.0,612.3L2058.7,562.7L2060.5,615.2L2062.3,614.5L2064.1,615.1L2065.9,565.7L2067.7,591.4L2069.5,601.5L2071.3,604.9L2073.0,577.7L2074.8,597.5L2076.6,615.8L2078.4,580.7L2080.2,613.5L2082.0,591.9L2083.8,612.8L2085.6,612.7L2087.3,616.2L2089.1,532.8L2090.9,565.7L2092.7,609.1L2094.5,610.0L2096.3,612.2L2098.1,596.4L2099.9,592.9L2101.6,599.6L2103.4,612.3L2105.2,615.1" stroke="#6a74fb" stroke-width="2.2" stroke-opacity="1.00"/>
<path d="M1213.3,335.2L1215.1,338.5L1216.9,315.4L1218.7,339.3L1220.4,332.0L1222.2,338.6L1224.0,312.1L1225.8,310.2L1227.6,295.1L1229.4,314.2L1231.2,306.4L1233.0,316.1L1234.7,326.2L1236.5,312.3L1238.3,248.4L1240.1,317.5L1241.9,300.2L1243.7,307.9L1245.5,321.5L1247.3,298.7L1249.0,310.8L1250.8,327.9L1252.6,320.9L1254.4,329.4L1256.2,329.4L1258.0,328.4L1259.8,299.8L1261.6,307.7L1263.3,310.7L1265.1,304.5L1266.9,296.6L1268.7,306.6L1270.5,322.7L1272.3,295.4L1274.1,326.4L1275.9,325.9L1277.6,307.6L1279.4,293.7L1281.2,317.6L1283.0,338.6L1284.8,319.7L1286.6,327.0L1288.4,327.2L1290.2,310.6L1291.9,309.3L1293.7,307.4L1295.5,325.2L1297.3,302.7L1299.1,302.1L1300.9,315.8L1302.7,336.4L1304.5,319.9L1306.2,319.1L1308.0,346.6L1309.8,345.8L1311.6,317.9L1313.4,328.6L1315.2,337.6L1317.0,329.8L1318.8,332.1L1320.5,332.2L1322.3,355.2L1324.1,349.2L1325.9,388.2L1327.7,416.1L1329.5,384.6L1331.3,385.5L1333.1,389.3L1334.8,378.0L1336.6,372.5L1338.4,373.4L1340.2,369.8L1342.0,367.5L1343.8,386.3L1345.6,393.5L1347.4,373.1L1349.1,400.9L1350.9,393.4L1352.7,362.5L1354.5,352.6L1356.3,348.9L1358.1,387.6L1359.9,329.8L1361.7,327.8L1363.4,321.2L1365.2,319.3L1367.0,363.6L1368.8,360.8L1370.6,287.4L1372.4,302.1L1374.2,342.7L1376.0,346.8L1377.7,351.4L1379.5,337.6L1381.3,329.1L1383.1,327.6L1384.9,353.5L1386.7,355.3L1388.5,343.9L1390.3,322.5L1392.0,295.6L1393.8,307.8L1395.6,323.6L1397.4,306.9L1399.2,333.5L1401.0,332.9L1402.8,331.7L1404.6,312.5L1406.3,280.2L1408.1,281.1L1409.9,278.6L1411.7,285.5L1413.5,288.5L1415.3,266.4L1417.1,309.0L1418.9,327.8L1420.6,328.2L1422.4,328.9L1424.2,305.4L1426.0,297.7L1427.8,293.3L1429.6,292.8L1431.4,307.9L1433.2,300.0L1434.9,297.8L1436.7,307.4L1438.5,304.2L1440.3,318.4L1442.1,344.3L1443.9,334.4L1445.7,343.8L1447.4,333.5L1449.2,338.7L1451.0,328.0L1452.8,349.7L1454.6,314.2L1456.4,312.9L1458.2,326.8L1460.0,342.9L1461.7,336.2L1463.5,324.0L1465.3,323.8L1467.1,324.3L1468.9,349.1L1470.7,349.1L1472.5,324.5L1474.3,326.3L1476.0,346.4L1477.8,345.8L1479.6,347.1L1481.4,345.9L1483.2,320.7L1485.0,328.4L1486.8,313.5L1488.6,318.1L1490.3,341.2L1492.1,339.2L1493.9,306.1L1495.7,325.0L1497.5,337.1L1499.3,309.3L1501.1,316.2L1502.9,320.9L1504.6,251.4L1506.4,338.1L1508.2,324.8L1510.0,337.2L1511.8,340.4L1513.6,339.4L1515.4,346.2L1517.2,379.2L1518.9,391.5L1520.7,391.4L1522.5,372.0L1524.3,369.9L1526.1,386.1L1527.9,348.4L1529.7,338.1L1531.5,337.0L1533.2,331.4L1535.0,314.1L1536.8,307.2L1538.6,307.1L1540.4,320.8L1542.2,330.5L1544.0,339.8L1545.8,332.1L1547.5,266.4L1549.3,322.5L1551.1,338.0L1552.9,335.3L1554.7,337.4L1556.5,339.6L1558.3,340.0L1560.1,339.6L1561.8,340.0L1563.6,320.2L1565.4,317.5L1567.2,337.6L1569.0,311.5L1570.8,299.3L1572.6,272.2L1574.4,284.5L1576.1,251.4L1577.9,312.5L1579.7,297.9L1581.5,282.4L1583.3,288.3L1585.1,305.8L1586.9,287.9L1588.7,325.1L1590.4,352.8L1592.2,401.1L1594.0,351.6L1595.8,374.1L1597.6,350.5L1599.4,303.1L1601.2,243.3L1603.0,236.5L1604.7,269.2L1606.5,287.8L1608.3,274.1L1610.1,274.0L1611.9,287.2L1613.7,317.0L1615.5,333.4L1617.3,361.5L1619.0,381.9L1620.8,408.9L1622.6,419.3L1624.4,470.6L1626.2,509.5L1628.0,550.7L1629.8,513.3L1631.6,401.1L1633.3,543.9L1635.1,587.0L1636.9,595.6L1638.7,585.7L1640.5,584.7L1642.3,536.4L1644.1,535.1L1645.9,522.8L1647.6,497.4L1649.4,484.5L1651.2,478.0L1653.0,455.4L1654.8,449.2L1656.6,464.4L1658.4,467.9L1660.2,479.5L1661.9,484.2L1663.7,485.0L1665.5,461.5L1667.3,465.3L1669.1,456.8L1670.9,456.2L1672.7,469.4L1674.4,450.4L1676.2,467.9L1678.0,482.5L1679.8,482.8L1681.6,453.6L1683.4,464.4L1685.2,479.6L1687.0,460.7L1688.7,443.3L1690.5,455.0L1692.3,462.9L1694.1,439.5L1695.9,434.7L1697.7,437.1L1699.5,475.2L1701.3,467.9L1703.0,465.7L1704.8,523.7L1706.6,468.3L1708.4,550.7L1710.2,467.8L1712.0,416.6L1713.8,368.3L1715.6,356.3L1717.3,318.3L1719.1,267.2L1720.9,230.1L1722.7,222.3L1724.5,221.3L1726.3,199.9L1728.1,189.8L1729.9,180.7L1731.6,153.8L1733.4,144.3L1735.2,80.8L1737.0,194.0L1738.8,221.4L1740.6,232.1L1742.4,232.6L1744.2,198.0L1745.9,236.1L1747.7,225.8L1749.5,229.7L1751.3,244.9L1753.1,209.8L1754.9,202.8L1756.7,240.3L1758.5,201.4L1760.2,161.4L1762.0,207.4L1763.8,146.7L1765.6,160.7L1767.4,214.2L1769.2,171.8L1771.0,190.0L1772.8,217.8L1774.5,128.7L1776.3,205.2L1778.1,218.1L1779.9,179.1L1781.7,177.6L1783.5,214.5L1785.3,229.9L1787.1,170.9L1788.8,172.3L1790.6,180.9L1792.4,219.5L1794.2,262.0L1796.0,261.4L1797.8,199.6L1799.6,209.3L1801.4,238.6L1803.1,273.8L1804.9,251.1L1806.7,270.3L1808.5,233.9L1810.3,104.8L1812.1,126.5L1813.9,156.2L1815.7,198.2L1817.4,190.5L1819.2,155.0L1821.0,175.6L1822.8,257.0L1824.6,180.7L1826.4,199.2L1828.2,178.8L1830.0,202.4L1831.7,230.9L1833.5,254.1L1835.3,248.6L1837.1,298.7L1838.9,342.0L1840.7,356.2L1842.5,324.4L1844.3,296.6L1846.0,272.8L1847.8,164.3L1849.6,165.2L1851.4,160.2L1853.2,203.7L1855.0,189.2L1856.8,205.8L1858.6,209.8L1860.3,167.0L1862.1,161.6L1863.9,170.8L1865.7,181.6L1867.5,247.2L1869.3,246.0L1871.1,202.8L1872.9,220.0L1874.6,241.6L1876.4,201.4L1878.2,243.7L1880.0,247.2L1881.8,179.8L1883.6,215.3L1885.4,156.9L1887.1,166.6L1888.9,164.4L1890.7,160.3L1892.5,251.7L1894.3,230.7L1896.1,246.8L1897.9,261.3L1899.7,265.6L1901.4,220.7L1903.2,266.6L1905.0,240.4L1906.8,303.4L1908.6,314.0L1910.4,313.4L1912.2,286.9L1914.0,315.3L1915.7,350.7L1917.5,356.0L1919.3,386.4L1921.1,316.6L1922.9,401.1L1924.7,284.3L1926.5,258.5L1928.3,266.2L1930.0,237.4L1931.8,192.0L1933.6,248.6L1935.4,267.8L1937.2,184.4L1939.0,178.6L1940.8,198.9L1942.6,207.3L1944.3,227.2L1946.1,201.7L1947.9,255.5L1949.7,260.1L1951.5,245.8L1953.3,221.4L1955.1,265.3L1956.9,269.1L1958.6,309.8L1960.4,332.2L1962.2,314.0L1964.0,265.4L1965.8,202.4L1967.6,228.8L1969.4,217.4L1971.2,213.4L1972.9,183.7L1974.7,160.9L1976.5,216.8L1978.3,140.7L1980.1,213.5L1981.9,166.3L1983.7,206.4L1985.5,215.1L1987.2,214.3L1989.0,197.9L1990.8,217.5L1992.6,191.5L1994.4,182.9L1996.2,183.6L1998.0,178.1L1999.8,159.9L2001.5,224.2L2003.3,232.1L2005.1,247.3L2006.9,314.8L2008.7,295.0L2010.5,335.6L2012.3,356.2L2014.1,274.4L2015.8,220.6L2017.6,172.4L2019.4,158.9L2021.2,201.9L2023.0,158.7L2024.8,154.9L2026.6,185.1L2028.4,179.7L2030.1,146.4L2031.9,147.5L2033.7,144.9L2035.5,163.8L2037.3,146.7L2039.1,131.7L2040.9,154.0L2042.7,223.2L2044.4,163.2L2046.2,202.3L2048.0,228.8L2049.8,231.4L2051.6,205.6L2053.4,151.3L2055.2,137.0L2057.0,168.9L2058.7,132.6L2060.5,163.0L2062.3,122.7L2064.1,193.8L2065.9,186.5L2067.7,194.0L2069.5,211.8L2071.3,319.5L2073.0,356.2L2074.8,302.7L2076.6,260.5L2078.4,300.9L2080.2,273.2L2082.0,271.8L2083.8,293.3L2085.6,273.3L2087.3,257.8L2089.1,310.1L2090.9,331.8L2092.7,336.5L2094.5,344.0L2096.3,320.9L2098.1,313.9L2099.9,277.4L2101.6,283.3L2103.4,306.4L2105.2,326.3" stroke="#f5512f" stroke-width="2.3" stroke-opacity="1.00"/>
<path d="M1213.3,514.8L1215.1,476.8L1216.9,480.2L1218.7,482.8L1220.4,493.3L1222.2,507.6L1224.0,501.3L1225.8,526.9L1227.6,557.5L1229.4,563.2L1231.2,564.4L1233.0,540.2L1234.7,512.2L1236.5,486.8L1238.3,497.2L1240.1,510.8L1241.9,503.7L1243.7,525.3L1245.5,570.0L1247.3,516.6L1249.0,548.6L1250.8,552.7L1252.6,581.3L1254.4,539.5L1256.2,529.1L1258.0,526.7L1259.8,572.6L1261.6,508.9L1263.3,539.3L1265.1,478.9L1266.9,553.4L1268.7,540.4L1270.5,493.1L1272.3,550.6L1274.1,601.6L1275.9,565.6L1277.6,544.5L1279.4,574.9L1281.2,551.5L1283.0,536.1L1284.8,587.4L1286.6,590.5L1288.4,564.6L1290.2,583.4L1291.9,592.0L1293.7,544.1L1295.5,540.4L1297.3,538.4L1299.1,538.1L1300.9,541.0L1302.7,578.6L1304.5,590.8L1306.2,573.0L1308.0,587.4L1309.8,573.6L1311.6,557.6L1313.4,575.2L1315.2,563.7L1317.0,466.9L1318.8,479.0L1320.5,576.3L1322.3,559.6L1324.1,466.9L1325.9,503.2L1327.7,522.1L1329.5,566.9L1331.3,571.9L1333.1,552.2L1334.8,581.1L1336.6,547.3L1338.4,548.4L1340.2,455.0L1342.0,580.5L1343.8,562.6L1345.6,588.5L1347.4,589.6L1349.1,576.2L1350.9,534.1L1352.7,556.7L1354.5,560.6L1356.3,563.8L1358.1,585.2L1359.9,561.2L1361.7,541.6L1363.4,556.4L1365.2,529.8L1367.0,582.3L1368.8,564.1L1370.6,582.6L1372.4,582.3L1374.2,564.0L1376.0,560.4L1377.7,541.2L1379.5,540.7L1381.3,585.0L1383.1,493.9L1384.9,588.5L1386.7,582.1L1388.5,570.0L1390.3,573.6L1392.0,561.5L1393.8,567.9L1395.6,586.5L1397.4,557.8L1399.2,567.8L1401.0,585.9L1402.8,466.9L1404.6,547.1L1406.3,527.6L1408.1,563.9L1409.9,542.8L1411.7,552.5L1413.5,486.5L1415.3,481.9L1417.1,492.5L1418.9,532.8L1420.6,500.2L1422.4,491.1L1424.2,535.1L1426.0,544.6L1427.8,584.7L1429.6,505.8L1431.4,589.0L1433.2,576.6L1434.9,551.4L1436.7,545.4L1438.5,582.4L1440.3,575.0L1442.1,600.7L1443.9,573.4L1445.7,583.9L1447.4,599.4L1449.2,598.9L1451.0,570.3L1452.8,572.8L1454.6,556.4L1456.4,585.1L1458.2,575.7L1460.0,584.5L1461.7,601.1L1463.5,593.8L1465.3,587.4L1467.1,596.0L1468.9,560.7L1470.7,536.3L1472.5,536.8L1474.3,549.6L1476.0,505.8L1477.8,580.7L1479.6,593.7L1481.4,586.5L1483.2,556.1L1485.0,576.5L1486.8,603.7L1488.6,560.1L1490.3,575.3L1492.1,552.6L1493.9,595.0L1495.7,548.6L1497.5,596.4L1499.3,585.6L1501.1,563.6L1502.9,605.3L1504.6,604.7L1506.4,605.4L1508.2,558.0L1510.0,559.3L1511.8,599.0L1513.6,605.6L1515.4,605.7L1517.2,597.3L1518.9,602.7L1520.7,583.7L1522.5,597.2L1524.3,605.9L1526.1,556.3L1527.9,563.3L1529.7,596.2L1531.5,596.8L1533.2,557.8L1535.0,557.8L1536.8,602.7L1538.6,557.6L1540.4,592.9L1542.2,572.8L1544.0,604.3L1545.8,603.8L1547.5,573.1L1549.3,604.4L1551.1,592.8L1552.9,577.6L1554.7,599.1L1556.5,556.9L1558.3,560.5L1560.1,582.2L1561.8,560.3L1563.6,553.2L1565.4,552.9L1567.2,576.3L1569.0,563.3L1570.8,569.3L1572.6,601.5L1574.4,595.7L1576.1,543.6L1577.9,583.2L1579.7,562.3L1581.5,508.4L1583.3,478.9L1585.1,552.8L1586.9,589.9L1588.7,569.5L1590.4,597.7L1592.2,580.9L1594.0,597.5L1595.8,581.5L1597.6,601.7L1599.4,601.7L1601.2,573.2L1603.0,567.0L1604.7,602.5L1606.5,568.4L1608.3,596.6L1610.1,568.1L1611.9,558.8L1613.7,580.2L1615.5,592.3L1617.3,603.4L1619.0,588.9L1620.8,554.6L1622.6,598.7L1624.4,564.7L1626.2,563.0L1628.0,559.7L1629.8,599.0L1631.6,593.5L1633.3,582.9L1635.1,532.7L1636.9,579.0L1638.7,585.4L1640.5,590.7L1642.3,539.4L1644.1,594.3L1645.9,584.9L1647.6,594.6L1649.4,508.8L1651.2,541.7L1653.0,578.4L1654.8,559.2L1656.6,593.6L1658.4,591.4L1660.2,592.2L1661.9,599.6L1663.7,586.9L1665.5,577.4L1667.3,597.0L1669.1,580.4L1670.9,375.9L1672.7,414.5L1674.4,287.4L1676.2,349.5L1678.0,347.9L1679.8,330.5L1681.6,356.8L1683.4,374.4L1685.2,436.6L1687.0,434.1L1688.7,385.4L1690.5,438.7L1692.3,443.0L1694.1,340.4L1695.9,326.3L1697.7,451.5L1699.5,460.9L1701.3,490.0L1703.0,415.1L1704.8,488.3L1706.6,491.1L1708.4,541.8L1710.2,539.5L1712.0,498.0L1713.8,470.4L1715.6,482.3L1717.3,455.1L1719.1,492.3L1720.9,499.5L1722.7,502.4L1724.5,504.0L1726.3,576.0L1728.1,537.1L1729.9,585.4L1731.6,588.2L1733.4,589.6L1735.2,589.5L1737.0,549.5L1738.8,472.1L1740.6,505.3L1742.4,481.6L1744.2,373.9L1745.9,414.1L1747.7,403.7L1749.5,332.2L1751.3,429.2L1753.1,365.2L1754.9,399.8L1756.7,413.5L1758.5,486.3L1760.2,467.1L1762.0,414.7L1763.8,431.3L1765.6,505.0L1767.4,484.0L1769.2,469.0L1771.0,350.2L1772.8,419.6L1774.5,485.2L1776.3,444.1L1778.1,526.4L1779.9,483.4L1781.7,514.5L1783.5,522.6L1785.3,518.7L1787.1,522.9L1788.8,461.5L1790.6,386.1L1792.4,391.6L1794.2,395.1L1796.0,469.1L1797.8,436.9L1799.6,435.7L1801.4,458.7L1803.1,453.4L1804.9,457.5L1806.7,479.8L1808.5,476.0L1810.3,430.1L1812.1,442.5L1813.9,404.6L1815.7,439.4L1817.4,395.1L1819.2,443.3L1821.0,441.1L1822.8,423.3L1824.6,450.4L1826.4,434.1L1828.2,487.2L1830.0,581.4L1831.7,574.5L1833.5,572.7L1835.3,532.6L1837.1,523.6L1838.9,532.3L1840.7,566.5L1842.5,523.3L1844.3,528.3L1846.0,563.3L1847.8,495.8L1849.6,556.2L1851.4,545.0L1853.2,554.4L1855.0,550.1L1856.8,510.0L1858.6,534.9L1860.3,521.2L1862.1,332.2L1863.9,425.9L1865.7,519.7L1867.5,515.8L1869.3,556.9L1871.1,562.3L1872.9,564.1L1874.6,561.3L1876.4,563.6L1878.2,567.8L1880.0,566.8L1881.8,567.0L1883.6,515.2L1885.4,564.3L1887.1,540.2L1888.9,565.7L1890.7,520.9L1892.5,542.6L1894.3,540.4L1896.1,442.3L1897.9,410.1L1899.7,458.0L1901.4,482.2L1903.2,522.3L1905.0,572.6L1906.8,585.3L1908.6,585.9L1910.4,549.7L1912.2,572.5L1914.0,553.4L1915.7,546.7L1917.5,556.8L1919.3,574.4L1921.1,580.2L1922.9,492.3L1924.7,516.6L1926.5,569.3L1928.3,446.0L1930.0,571.9L1931.8,485.0L1933.6,530.2L1935.4,584.0L1937.2,498.8L1939.0,587.8L1940.8,521.7L1942.6,491.0L1944.3,512.4L1946.1,502.3L1947.9,505.3L1949.7,573.2L1951.5,554.4L1953.3,557.2L1955.1,562.0L1956.9,531.3L1958.6,544.3L1960.4,518.7L1962.2,501.1L1964.0,531.4L1965.8,543.2L1967.6,538.1L1969.4,534.9L1971.2,534.7L1972.9,431.0L1974.7,530.0L1976.5,482.9L1978.3,526.5L1980.1,549.6L1981.9,556.5L1983.7,563.0L1985.5,578.6L1987.2,589.0L1989.0,593.9L1990.8,574.4L1992.6,460.8L1994.4,386.1L1996.2,476.5L1998.0,480.8L1999.8,442.5L2001.5,393.0L2003.3,432.9L2005.1,456.4L2006.9,415.8L2008.7,455.6L2010.5,384.1L2012.3,441.7L2014.1,350.2L2015.8,436.8L2017.6,443.2L2019.4,406.8L2021.2,416.8L2023.0,410.5L2024.8,448.7L2026.6,437.3L2028.4,441.8L2030.1,350.2L2031.9,406.1L2033.7,475.4L2035.5,490.2L2037.3,504.9L2039.1,518.8L2040.9,508.2L2042.7,495.3L2044.4,524.7L2046.2,505.3L2048.0,487.0L2049.8,491.8L2051.6,465.5L2053.4,510.4L2055.2,522.8L2057.0,529.4L2058.7,539.9L2060.5,530.7L2062.3,480.3L2064.1,483.8L2065.9,508.5L2067.7,511.4L2069.5,472.3L2071.3,471.6L2073.0,543.1L2074.8,541.9L2076.6,502.9L2078.4,493.6L2080.2,494.1L2082.0,495.4L2083.8,553.9L2085.6,570.8L2087.3,554.8L2089.1,593.3L2090.9,595.6L2092.7,507.7L2094.5,564.0L2096.3,534.4L2098.1,494.6L2099.9,486.2L2101.6,518.9L2103.4,536.4L2105.2,460.9" stroke="#00c896" stroke-width="3.2" stroke-opacity="1.00"/>
</g>
<line x1="1213.3" y1="50.2" x2="1213.3" y2="651.2" stroke="#8d9bb1" stroke-width="2.2"/>
<line x1="1212.2" y1="650.1" x2="2107.0" y2="650.1" stroke="#8d9bb1" stroke-width="2.2"/>
<g fill="#2f4466" font-size="29.5">
<text x="1205.5" y="126.8" text-anchor="end">2</text>
<text x="1205.5" y="276.4" text-anchor="end">1.5</text>
<text x="1205.5" y="426.1" text-anchor="end">1</text>
<text x="1205.5" y="575.7" text-anchor="end">0.5</text>
<text x="1213.3" y="686.1" text-anchor="middle">0</text>
<text x="1302.7" y="686.1" text-anchor="middle">50</text>
<text x="1392.0" y="686.1" text-anchor="middle">100</text>
<text x="1481.4" y="686.1" text-anchor="middle">150</text>
<text x="1570.8" y="686.1" text-anchor="middle">200</text>
<text x="1660.2" y="686.1" text-anchor="middle">250</text>
<text x="1749.5" y="686.1" text-anchor="middle">300</text>
<text x="1838.9" y="686.1" text-anchor="middle">350</text>
<text x="1928.3" y="686.1" text-anchor="middle">400</text>
<text x="2017.6" y="686.1" text-anchor="middle">450</text>
</g>
<text x="1660.2" y="727.2" text-anchor="middle" font-size="29.5" fill="#2f4466">Time (ns)</text>
<text transform="translate(1157.0,350.2) rotate(-90)" x="-93" textLength="186" lengthAdjust="spacingAndGlyphs" font-size="29.5" fill="#2f4466">Distance (nm)</text>
<line x1="2129.0" y1="75.2" x2="2159.0" y2="75.2" stroke="#6a74fb" stroke-width="2.6" stroke-opacity="0.9"/>
<text x="2165.2" y="85.7" font-size="28.5" fill="#2f4466">Replica 1</text>
<line x1="2129.0" y1="116.5" x2="2159.0" y2="116.5" stroke="#f5512f" stroke-width="3.4" stroke-opacity="0.9"/>
<text x="2165.2" y="127.0" font-size="28.5" fill="#2f4466">Replica 2</text>
<line x1="2129.0" y1="157.7" x2="2159.0" y2="157.7" stroke="#00c896" stroke-width="3.8" stroke-opacity="0.9"/>
<text x="2165.2" y="168.2" font-size="28.5" fill="#2f4466">Replica 3</text>
<line x1="1296.9" y1="839.2" x2="1296.9" y2="1425.5" stroke="#fcefee" stroke-width="2"/>
<line x1="1384.4" y1="839.2" x2="1384.4" y2="1425.5" stroke="#fcefee" stroke-width="2"/>
<line x1="1471.9" y1="839.2" x2="1471.9" y2="1425.5" stroke="#fcefee" stroke-width="2"/>
<line x1="1559.4" y1="839.2" x2="1559.4" y2="1425.5" stroke="#fcefee" stroke-width="2"/>
<line x1="1646.9" y1="839.2" x2="1646.9" y2="1425.5" stroke="#fcefee" stroke-width="2"/>
<line x1="1734.4" y1="839.2" x2="1734.4" y2="1425.5" stroke="#fcefee" stroke-width="2"/>
<line x1="1821.9" y1="839.2" x2="1821.9" y2="1425.5" stroke="#fcefee" stroke-width="2"/>
<line x1="1909.4" y1="839.2" x2="1909.4" y2="1425.5" stroke="#fcefee" stroke-width="2"/>
<line x1="1996.9" y1="839.2" x2="1996.9" y2="1425.5" stroke="#fcefee" stroke-width="2"/>
<line x1="1209.4" y1="895.7" x2="2084.4" y2="895.7" stroke="#f0f3f8" stroke-width="2"/>
<line x1="1209.4" y1="964.3" x2="2084.4" y2="964.3" stroke="#f0f3f8" stroke-width="2"/>
<line x1="1209.4" y1="1032.9" x2="2084.4" y2="1032.9" stroke="#f0f3f8" stroke-width="2"/>
<line x1="1209.4" y1="1101.6" x2="2084.4" y2="1101.6" stroke="#f0f3f8" stroke-width="2"/>
<line x1="1209.4" y1="1170.2" x2="2084.4" y2="1170.2" stroke="#f0f3f8" stroke-width="2"/>
<line x1="1209.4" y1="1238.8" x2="2084.4" y2="1238.8" stroke="#f0f3f8" stroke-width="2"/>
<line x1="1209.4" y1="1307.4" x2="2084.4" y2="1307.4" stroke="#f0f3f8" stroke-width="2"/>
<line x1="1209.4" y1="1376.0" x2="2084.4" y2="1376.0" stroke="#f0f3f8" stroke-width="2"/>
<g fill="none" stroke-linejoin="round" stroke-linecap="round">
<path d="M1209.4,998.6L1211.2,985.9L1212.9,980.2L1214.7,1043.5L1216.4,1021.9L1218.2,1001.2L1219.9,1007.1L1221.7,1009.8L1223.4,970.3L1225.2,948.0L1226.9,934.1L1228.7,994.2L1230.4,1071.0L1232.2,981.4L1233.9,1038.8L1235.7,1086.8L1237.4,939.5L1239.2,947.0L1240.9,1030.6L1242.7,1054.8L1244.4,1000.7L1246.2,1005.1L1247.9,985.3L1249.7,1028.0L1251.4,1124.9L1253.2,1129.1L1254.9,998.2L1256.7,1004.3L1258.4,947.2L1260.2,1051.4L1261.9,1011.8L1263.7,974.2L1265.4,1022.1L1267.2,1011.1L1268.9,1107.8L1270.7,1148.3L1272.4,919.7L1274.2,1063.2L1275.9,1094.3L1277.7,1160.1L1279.4,1138.5L1281.2,1155.1L1282.9,1061.5L1284.7,1191.5L1286.4,1213.4L1288.2,1215.6L1289.9,1172.7L1291.7,1090.1L1293.4,1109.7L1295.2,1280.0L1296.9,1238.8L1298.7,1085.1L1300.4,1123.3L1302.2,1168.2L1303.9,1129.5L1305.7,1107.6L1307.4,1071.1L1309.2,1111.3L1310.9,1197.0L1312.7,1222.0L1314.4,1108.0L1316.2,1144.1L1317.9,1141.0L1319.7,1119.7L1321.4,1213.5L1323.2,1083.8L1324.9,1152.8L1326.7,1173.5L1328.4,1183.9L1330.2,1157.6L1331.9,1186.7L1333.7,1193.4L1335.4,1128.8L1337.2,1091.9L1338.9,1103.1L1340.7,1222.1L1342.4,1207.7L1344.2,1101.1L1345.9,1148.3L1347.7,1156.2L1349.4,1182.8L1351.2,1099.9L1352.9,1178.3L1354.7,1205.1L1356.4,1120.6L1358.2,1242.5L1359.9,1224.2L1361.7,1099.0L1363.4,1142.0L1365.2,1145.6L1366.9,1252.8L1368.7,1221.1L1370.4,1247.5L1372.2,1246.3L1373.9,1251.2L1375.7,1209.6L1377.4,1223.3L1379.2,1151.6L1380.9,1281.6L1382.7,1272.7L1384.4,1188.1L1386.2,1185.0L1387.9,1144.0L1389.7,1222.4L1391.4,1307.4L1393.2,1169.2L1394.9,1272.8L1396.7,1288.5L1398.4,1146.7L1400.2,1145.0L1401.9,1314.3L1403.7,1255.3L1405.4,1288.1L1407.2,1264.8L1408.9,1223.5L1410.7,1143.4L1412.4,1211.9L1414.2,1222.4L1415.9,1224.8L1417.7,1157.8L1419.4,1139.8L1421.2,1136.8L1422.9,1176.9L1424.7,1162.2L1426.4,1260.2L1428.2,1265.2L1429.9,1250.7L1431.7,1172.4L1433.4,1288.2L1435.2,1242.8L1436.9,1139.4L1438.7,1143.5L1440.4,1139.8L1442.2,1221.9L1443.9,1194.1L1445.7,1263.4L1447.4,1145.8L1449.2,1215.5L1450.9,1241.1L1452.7,1273.1L1454.4,1212.9L1456.2,1143.5L1457.9,1188.9L1459.7,1213.7L1461.4,1243.3L1463.2,1155.8L1464.9,1188.0L1466.7,1174.9L1468.4,1198.4L1470.2,1198.4L1471.9,1166.3L1473.7,1161.8L1475.4,1276.5L1477.2,1234.5L1478.9,1231.6L1480.7,1186.1L1482.4,1146.9L1484.2,1237.3L1485.9,1365.7L1487.7,1286.5L1489.4,1271.2L1491.2,1158.9L1492.9,1240.0L1494.7,1150.0L1496.4,1189.6L1498.2,1220.5L1499.9,1207.2L1501.7,1246.1L1503.4,1196.7L1505.2,1208.6L1506.9,1293.2L1508.7,1282.3L1510.4,1201.3L1512.2,1231.7L1513.9,1297.2L1515.7,1184.8L1517.4,1290.3L1519.2,1269.8L1520.9,1232.0L1522.7,1169.6L1524.4,1175.0L1526.2,1167.7L1527.9,1287.8L1529.7,1173.2L1531.4,1230.3L1533.2,1257.3L1534.9,1195.4L1536.7,1156.0L1538.4,1153.6L1540.2,1250.4L1541.9,1200.9L1543.7,1294.2L1545.4,1185.8L1547.2,1267.0L1548.9,1280.9L1550.7,1183.8L1552.4,1192.7L1554.2,1266.8L1555.9,1185.9L1557.7,1139.0L1559.4,1281.6L1561.2,1226.1L1562.9,1212.8L1564.7,1200.4L1566.4,1204.0L1568.2,1155.2L1569.9,1157.0L1571.7,1190.6L1573.4,1155.0L1575.2,1229.0L1576.9,1140.3L1578.7,1186.2L1580.4,1227.1L1582.2,1181.8L1583.9,1275.5L1585.7,1295.0L1587.4,1285.6L1589.2,1153.8L1590.9,1162.2L1592.7,1251.3L1594.4,1237.0L1596.2,1225.4L1597.9,1270.0L1599.7,1265.3L1601.4,1288.8L1603.2,1301.5L1604.9,1291.7L1606.7,1161.6L1608.4,1168.2L1610.2,1222.6L1611.9,1197.3L1613.7,1284.2L1615.4,1213.1L1617.2,1229.6L1618.9,1255.2L1620.7,1200.8L1622.4,1225.3L1624.2,1137.8L1625.9,1379.5L1627.7,1242.4L1629.4,1203.2L1631.2,1222.7L1632.9,1141.3L1634.7,1334.9L1636.4,1300.8L1638.2,1286.9L1639.9,1307.1L1641.7,1264.2L1643.4,1257.8L1645.2,1185.9L1646.9,1157.5L1648.7,1257.9L1650.4,1214.8L1652.2,1209.3L1653.9,1128.7L1655.7,1164.8L1657.4,1214.1L1659.2,1227.9L1660.9,1165.5L1662.7,1269.0L1664.4,1259.4L1666.2,1260.3L1667.9,1269.9L1669.7,1067.2L1671.4,1271.3L1673.2,1131.2L1674.9,1255.4L1676.7,1258.7L1678.4,1116.3L1680.2,1245.3L1681.9,1243.3L1683.7,1220.0L1685.4,1282.4L1687.2,1259.2L1688.9,1207.4L1690.7,1160.7L1692.4,1203.2L1694.2,1163.7L1695.9,1169.3L1697.7,1267.5L1699.4,1166.1L1701.2,1164.1L1702.9,1203.0L1704.7,1223.1L1706.4,1209.1L1708.2,1198.0L1709.9,1227.5L1711.7,1264.2L1713.4,1174.5L1715.2,1192.7L1716.9,1172.0L1718.7,1137.4L1720.4,1240.6L1722.2,1181.2L1723.9,1204.9L1725.7,1184.6L1727.4,1236.9L1729.2,1138.6L1730.9,1254.4L1732.7,1232.6L1734.4,1194.8L1736.2,1179.2L1737.9,1183.4L1739.7,1265.9L1741.4,1269.2L1743.2,1272.8L1744.9,1258.9L1746.7,1132.8L1748.4,1197.1L1750.2,1130.4L1751.9,1132.0L1753.7,1215.7L1755.4,1272.2L1757.2,1272.7L1758.9,1262.8L1760.7,1118.7L1762.4,1129.2L1764.2,1201.5L1765.9,1221.3L1767.7,1157.3L1769.4,1159.6L1771.2,1185.8L1772.9,1137.0L1774.7,1195.3L1776.4,1198.1L1778.2,1255.4L1779.9,1174.9L1781.7,1281.1L1783.4,1189.7L1785.2,1268.9L1786.9,1175.8L1788.7,1256.8L1790.4,1168.3L1792.2,1158.4L1793.9,1348.6L1795.7,1160.3L1797.4,1260.8L1799.2,1260.1L1800.9,1365.7L1802.7,1258.9L1804.4,1225.1L1806.2,1225.0L1807.9,1169.3L1809.7,1173.8L1811.4,1222.2L1813.2,1224.5L1814.9,1290.2L1816.7,1203.4L1818.4,1293.9L1820.2,1300.8L1821.9,1299.4L1823.7,1163.5L1825.4,1175.3L1827.2,1207.2L1828.9,1287.2L1830.7,1238.1L1832.4,1288.7L1834.2,1188.5L1835.9,1209.3L1837.7,1213.2L1839.4,1272.6L1841.2,1173.3L1842.9,1204.5L1844.7,1171.5L1846.4,1246.4L1848.2,1269.2L1849.9,1137.1L1851.7,1189.0L1853.4,1213.0L1855.2,1197.0L1856.9,1348.6L1858.7,1153.9L1860.4,1254.6L1862.2,1191.8L1863.9,1165.1L1865.7,1173.5L1867.4,1277.3L1869.2,1176.3L1870.9,1150.3L1872.7,1149.2L1874.4,1267.0L1876.2,1158.8L1877.9,1215.7L1879.7,1084.4L1881.4,1240.1L1883.2,1270.1L1884.9,1223.5L1886.7,1227.5L1888.4,1246.4L1890.2,1157.6L1891.9,1214.7L1893.7,1158.9L1895.4,1240.2L1897.2,1242.0L1898.9,1186.4L1900.7,1247.0L1902.4,1271.2L1904.2,1290.0L1905.9,1156.9L1907.7,1144.6L1909.4,1162.7L1911.2,1151.1L1912.9,1139.3L1914.7,1139.5L1916.4,1210.9L1918.2,1155.3L1919.9,1167.0L1921.7,1209.8L1923.4,1150.4L1925.2,1159.5L1926.9,1172.5L1928.7,1197.0L1930.4,1214.5L1932.2,1209.3L1933.9,1230.9L1935.7,1205.1L1937.4,1161.1L1939.2,1237.0L1940.9,1152.6L1942.7,1314.3L1944.4,1202.6L1946.2,1149.3L1947.9,1168.4L1949.7,1201.9L1951.4,1289.3L1953.2,1169.5L1954.9,1393.2L1956.7,1254.9L1958.4,1218.3L1960.2,1174.7L1961.9,1163.8L1963.7,1289.9L1965.4,1222.1L1967.2,1236.9L1968.9,1173.6L1970.7,1196.5L1972.4,1172.0L1974.2,1283.4L1975.9,1296.1L1977.7,1200.3L1979.4,1296.7L1981.2,1208.6L1982.9,1245.4L1984.7,1152.7L1986.4,1160.9L1988.2,1154.6L1989.9,1221.4L1991.7,1171.1L1993.4,1207.7L1995.2,1199.6L1996.9,1153.2L1998.7,1156.7L2000.4,1246.8L2002.2,1284.1L2003.9,1286.9L2005.7,1205.1L2007.4,1165.9L2009.2,1291.6L2010.9,1288.7L2012.7,1177.7L2014.4,1162.2L2016.2,1283.7L2017.9,1258.3L2019.7,1261.9L2021.4,1195.4L2023.2,1273.4L2024.9,1238.2L2026.7,1286.0L2028.4,1236.3L2030.2,1196.4L2031.9,1192.5L2033.7,1280.2L2035.4,1218.0L2037.2,1214.4L2038.9,1278.3L2040.7,1193.7L2042.4,1157.0L2044.2,1314.3L2045.9,1245.4L2047.7,1161.4L2049.4,1206.8L2051.2,1174.3L2052.9,1162.0L2054.7,1153.3L2056.4,1212.0L2058.2,1233.4L2059.9,1156.7L2061.7,1153.6L2063.4,1204.3L2065.2,1149.3L2066.9,1149.7L2068.7,1199.8L2070.4,1197.2L2072.2,1193.7L2073.9,1186.2L2075.7,1262.2L2077.4,1205.0L2079.2,1211.5L2080.9,1228.7L2082.7,1238.8" stroke="#6a74fb" stroke-width="2.2" stroke-opacity="1.00"/>
<path d="M1209.4,930.0L1211.2,919.4L1212.9,1003.1L1214.7,1029.1L1216.4,972.4L1218.2,915.4L1219.9,935.1L1221.7,1026.5L1223.4,902.6L1225.2,995.2L1226.9,933.2L1228.7,964.8L1230.4,994.7L1232.2,994.2L1233.9,970.7L1235.7,1015.1L1237.4,986.2L1239.2,962.7L1240.9,913.4L1242.7,954.3L1244.4,925.0L1246.2,1015.7L1247.9,938.9L1249.7,955.5L1251.4,1000.1L1253.2,981.9L1254.9,930.0L1256.7,899.1L1258.4,925.1L1260.2,910.4L1261.9,908.3L1263.7,907.8L1265.4,1012.1L1267.2,962.9L1268.9,1007.3L1270.7,931.2L1272.4,955.8L1274.2,954.4L1275.9,941.6L1277.7,996.9L1279.4,971.5L1281.2,1009.6L1282.9,906.7L1284.7,899.1L1286.4,968.4L1288.2,1036.3L1289.9,1037.6L1291.7,1028.6L1293.4,942.7L1295.2,924.4L1296.9,940.5L1298.7,998.0L1300.4,907.8L1302.2,1002.9L1303.9,1020.5L1305.7,957.5L1307.4,1018.9L1309.2,970.1L1310.9,926.2L1312.7,963.0L1314.4,948.9L1316.2,965.4L1317.9,1008.8L1319.7,1044.2L1321.4,1042.5L1323.2,1004.5L1324.9,1041.1L1326.7,1025.7L1328.4,980.2L1330.2,924.7L1331.9,1027.9L1333.7,1019.4L1335.4,978.2L1337.2,952.7L1338.9,1035.4L1340.7,925.2L1342.4,1005.1L1344.2,938.2L1345.9,980.5L1347.7,961.5L1349.4,926.3L1351.2,935.0L1352.9,961.1L1354.7,1025.9L1356.4,1024.6L1358.2,1042.2L1359.9,924.7L1361.7,1031.7L1363.4,1045.8L1365.2,937.0L1366.9,923.8L1368.7,977.4L1370.4,938.3L1372.2,1009.1L1373.9,1013.7L1375.7,959.3L1377.4,951.3L1379.2,993.7L1380.9,919.3L1382.7,926.4L1384.4,951.8L1386.2,1023.5L1387.9,981.9L1389.7,994.0L1391.4,984.6L1393.2,939.8L1394.9,997.1L1396.7,968.0L1398.4,938.5L1400.2,949.8L1401.9,919.0L1403.7,1028.9L1405.4,997.8L1407.2,1032.9L1408.9,1000.7L1410.7,921.9L1412.4,1028.0L1414.2,871.7L1415.9,956.6L1417.7,971.3L1419.4,940.9L1421.2,1036.8L1422.9,953.2L1424.7,1022.6L1426.4,1039.9L1428.2,974.7L1429.9,960.2L1431.7,1016.3L1433.4,1030.6L1435.2,1010.1L1436.9,994.5L1438.7,997.9L1440.4,1033.2L1442.2,1048.2L1443.9,953.7L1445.7,967.4L1447.4,1033.5L1449.2,1043.6L1450.9,1032.4L1452.7,1016.9L1454.4,1044.1L1456.2,871.7L1457.9,949.1L1459.7,988.5L1461.4,962.6L1463.2,961.9L1464.9,929.1L1466.7,954.0L1468.4,922.7L1470.2,916.1L1471.9,966.2L1473.7,998.2L1475.4,1023.3L1477.2,1004.0L1478.9,1020.8L1480.7,992.2L1482.4,968.8L1484.2,902.6L1485.9,1030.8L1487.7,947.2L1489.4,993.0L1491.2,996.1L1492.9,1018.0L1494.7,1052.8L1496.4,1007.3L1498.2,1053.4L1499.9,963.5L1501.7,985.7L1503.4,942.2L1505.2,953.7L1506.9,957.5L1508.7,945.9L1510.4,983.8L1512.2,948.8L1513.9,990.7L1515.7,989.6L1517.4,1035.5L1519.2,985.2L1520.9,968.2L1522.7,1021.8L1524.4,1060.3L1526.2,1025.0L1527.9,985.6L1529.7,1008.0L1531.4,1052.1L1533.2,1051.6L1534.9,1031.6L1536.7,1072.5L1538.4,1061.2L1540.2,946.6L1541.9,1053.9L1543.7,1029.6L1545.4,932.9L1547.2,941.9L1548.9,937.6L1550.7,989.0L1552.4,1067.1L1554.2,1084.4L1555.9,941.0L1557.7,964.7L1559.4,917.4L1561.2,928.3L1562.9,971.5L1564.7,1058.2L1566.4,1025.7L1568.2,1015.0L1569.9,902.6L1571.7,1056.4L1573.4,1062.0L1575.2,1025.4L1576.9,1039.4L1578.7,983.3L1580.4,943.7L1582.2,964.4L1583.9,987.9L1585.7,935.4L1587.4,946.7L1589.2,1091.3L1590.9,1045.7L1592.7,999.3L1594.4,1039.5L1596.2,966.1L1597.9,1054.1L1599.7,1057.3L1601.4,971.5L1603.2,958.4L1604.9,1047.1L1606.7,1006.3L1608.4,902.6L1610.2,1027.6L1611.9,1042.2L1613.7,1046.9L1615.4,1046.4L1617.2,1055.5L1618.9,1042.0L1620.7,1057.5L1622.4,1019.6L1624.2,939.2L1625.9,1031.0L1627.7,965.9L1629.4,1273.1L1631.2,1221.6L1632.9,1032.0L1634.7,1018.3L1636.4,1034.8L1638.2,977.2L1639.9,1031.0L1641.7,998.7L1643.4,1034.1L1645.2,1028.4L1646.9,1122.1L1648.7,948.8L1650.4,989.2L1652.2,1065.6L1653.9,951.5L1655.7,949.1L1657.4,996.1L1659.2,1044.7L1660.9,1056.1L1662.7,958.6L1664.4,1011.4L1666.2,1044.8L1667.9,967.4L1669.7,1008.1L1671.4,1004.9L1673.2,932.5L1674.9,942.5L1676.7,941.2L1678.4,964.3L1680.2,947.9L1681.9,1002.4L1683.7,965.2L1685.4,959.8L1687.2,1030.4L1688.9,1091.3L1690.7,1017.9L1692.4,1039.3L1694.2,1001.3L1695.9,1129.0L1697.7,1003.8L1699.4,962.9L1701.2,935.2L1702.9,925.7L1704.7,934.7L1706.4,910.1L1708.2,976.3L1709.9,911.2L1711.7,940.6L1713.4,905.0L1715.2,882.0L1716.9,968.7L1718.7,1004.0L1720.4,915.0L1722.2,947.4L1723.9,895.7L1725.7,930.6L1727.4,1030.2L1729.2,959.2L1730.9,986.1L1732.7,950.2L1734.4,937.8L1736.2,1028.4L1737.9,1005.7L1739.7,982.9L1741.4,953.0L1743.2,925.7L1744.9,993.6L1746.7,989.8L1748.4,946.7L1750.2,1029.1L1751.9,923.2L1753.7,1002.8L1755.4,930.5L1757.2,955.9L1758.9,923.4L1760.7,928.2L1762.4,962.5L1764.2,1028.7L1765.9,992.3L1767.7,969.2L1769.4,956.0L1771.2,1020.2L1772.9,1019.1L1774.7,1017.0L1776.4,974.7L1778.2,1009.8L1779.9,988.3L1781.7,935.4L1783.4,979.9L1785.2,920.5L1786.9,938.1L1788.7,970.0L1790.4,919.5L1792.2,927.2L1793.9,965.9L1795.7,989.5L1797.4,968.5L1799.2,941.0L1800.9,904.4L1802.7,924.2L1804.4,977.3L1806.2,1008.5L1807.9,958.7L1809.7,933.8L1811.4,902.8L1813.2,875.1L1814.9,1007.1L1816.7,929.4L1818.4,957.4L1820.2,1004.8L1821.9,888.8L1823.7,907.2L1825.4,937.7L1827.2,938.1L1828.9,987.7L1830.7,920.5L1832.4,968.9L1834.2,982.2L1835.9,978.7L1837.7,895.7L1839.4,927.1L1841.2,906.4L1842.9,915.6L1844.7,1017.7L1846.4,998.5L1848.2,1003.0L1849.9,959.9L1851.7,1026.5L1853.4,1029.3L1855.2,1018.4L1856.9,942.2L1858.7,976.7L1860.4,920.0L1862.2,994.0L1863.9,982.4L1865.7,990.2L1867.4,1022.8L1869.2,945.5L1870.9,1032.8L1872.7,1039.5L1874.4,1023.0L1876.2,1021.1L1877.9,946.0L1879.7,1003.6L1881.4,965.9L1883.2,1006.6L1884.9,937.1L1886.7,971.8L1888.4,968.6L1890.2,1044.2L1891.9,968.2L1893.7,1015.0L1895.4,946.7L1897.2,948.2L1898.9,946.6L1900.7,927.4L1902.4,945.9L1904.2,1020.0L1905.9,983.2L1907.7,972.0L1909.4,1035.1L1911.2,962.5L1912.9,920.7L1914.7,948.5L1916.4,967.5L1918.2,954.5L1919.9,929.8L1921.7,997.4L1923.4,941.1L1925.2,1012.9L1926.9,963.8L1928.7,954.2L1930.4,1036.1L1932.2,966.9L1933.9,970.7L1935.7,1044.9L1937.4,1028.0L1939.2,1027.8L1940.9,1035.9L1942.7,982.2L1944.4,1025.3L1946.2,997.1L1947.9,1036.7L1949.7,1016.8L1951.4,934.0L1953.2,951.7L1954.9,1041.5L1956.7,1040.1L1958.4,1012.9L1960.2,1046.6L1961.9,963.3L1963.7,985.1L1965.4,992.4L1967.2,987.8L1968.9,1022.1L1970.7,1040.8L1972.4,1050.1L1974.2,1049.7L1975.9,1009.4L1977.7,961.4L1979.4,991.9L1981.2,1053.8L1982.9,1039.0L1984.7,1015.0L1986.4,1066.4L1988.2,968.4L1989.9,1065.5L1991.7,1040.0L1993.4,1118.7L1995.2,990.6L1996.9,1066.8L1998.7,1059.1L2000.4,958.7L2002.2,1036.8L2003.9,1019.3L2005.7,955.6L2007.4,950.0L2009.2,1028.4L2010.9,960.9L2012.7,983.7L2014.4,920.2L2016.2,1025.5L2017.9,947.1L2019.7,941.4L2021.4,981.8L2023.2,993.6L2024.9,951.6L2026.7,999.6L2028.4,993.5L2030.2,1010.4L2031.9,969.5L2033.7,878.5L2035.4,1027.1L2037.2,988.4L2038.9,958.4L2040.7,913.1L2042.4,994.1L2044.2,924.9L2045.9,986.6L2047.7,956.0L2049.4,963.8L2051.2,964.6L2052.9,998.5L2054.7,1032.2L2056.4,938.8L2058.2,933.4L2059.9,974.1L2061.7,996.1L2063.4,1004.5L2065.2,1046.9L2066.9,1049.2L2068.7,991.2L2070.4,949.1L2072.2,994.4L2073.9,1040.9L2075.7,1052.2L2077.4,1043.3L2079.2,971.7L2080.9,988.7L2082.7,1050.1" stroke="#f5512f" stroke-width="2.3" stroke-opacity="1.00"/>
<path d="M1209.4,930.0L1211.2,1105.4L1212.9,936.9L1214.7,1095.6L1216.4,1129.5L1218.2,1142.0L1219.9,1038.5L1221.7,1072.9L1223.4,1114.4L1225.2,1187.3L1226.9,1152.9L1228.7,1113.1L1230.4,1138.6L1232.2,1095.5L1233.9,962.4L1235.7,1070.5L1237.4,1083.7L1239.2,990.9L1240.9,1070.0L1242.7,1060.1L1244.4,1152.2L1246.2,1155.0L1247.9,1168.9L1249.7,1027.4L1251.4,1238.8L1253.2,1086.0L1254.9,1088.8L1256.7,1111.7L1258.4,953.4L1260.2,962.5L1261.9,1041.6L1263.7,1001.4L1265.4,966.3L1267.2,1124.4L1268.9,1273.1L1270.7,1004.4L1272.4,1048.4L1274.2,997.9L1275.9,972.5L1277.7,1033.3L1279.4,1094.9L1281.2,998.6L1282.9,1035.0L1284.7,1024.2L1286.4,965.9L1288.2,997.7L1289.9,1064.5L1291.7,1176.1L1293.4,1093.4L1295.2,1077.7L1296.9,1068.6L1298.7,1061.0L1300.4,1047.0L1302.2,1067.0L1303.9,1077.6L1305.7,1043.8L1307.4,1138.5L1309.2,1175.7L1310.9,1182.5L1312.7,1102.0L1314.4,1266.2L1316.2,1164.4L1317.9,1124.2L1319.7,1064.3L1321.4,1171.8L1323.2,947.2L1324.9,1091.7L1326.7,1143.6L1328.4,1102.2L1330.2,1116.7L1331.9,1190.0L1333.7,1158.5L1335.4,1187.8L1337.2,1015.9L1338.9,1094.6L1340.7,1162.3L1342.4,1212.5L1344.2,1150.2L1345.9,1092.6L1347.7,1107.8L1349.4,1209.9L1351.2,1211.9L1352.9,1215.0L1354.7,1136.1L1356.4,1192.7L1358.2,1150.9L1359.9,1033.8L1361.7,1221.0L1363.4,1179.4L1365.2,1144.8L1366.9,1227.7L1368.7,1074.6L1370.4,1135.6L1372.2,1093.1L1373.9,1066.0L1375.7,1024.1L1377.4,1143.6L1379.2,1181.3L1380.9,1222.9L1382.7,1227.6L1384.4,1011.7L1386.2,1122.2L1387.9,1230.8L1389.7,1086.3L1391.4,1003.4L1393.2,1163.3L1394.9,1129.8L1396.7,1222.3L1398.4,1237.3L1400.2,1186.4L1401.9,1220.5L1403.7,1225.5L1405.4,1150.0L1407.2,1081.9L1408.9,1127.0L1410.7,1017.5L1412.4,1147.0L1414.2,1155.8L1415.9,1042.2L1417.7,999.4L1419.4,999.0L1421.2,1006.9L1422.9,1060.4L1424.7,1213.6L1426.4,1020.3L1428.2,1091.4L1429.9,999.6L1431.7,1051.2L1433.4,1243.9L1435.2,1109.0L1436.9,1158.7L1438.7,1217.4L1440.4,1182.5L1442.2,1185.4L1443.9,1167.2L1445.7,1267.4L1447.4,1217.4L1449.2,1169.1L1450.9,1255.6L1452.7,1140.7L1454.4,1189.2L1456.2,1270.8L1457.9,1144.0L1459.7,1205.1L1461.4,1198.4L1463.2,1212.6L1464.9,1138.1L1466.7,1173.0L1468.4,1236.1L1470.2,1247.7L1471.9,1180.9L1473.7,1165.1L1475.4,1234.9L1477.2,1160.3L1478.9,1235.7L1480.7,1203.5L1482.4,1173.5L1484.2,1180.8L1485.9,1183.8L1487.7,1184.0L1489.4,1235.7L1491.2,1200.5L1492.9,1184.0L1494.7,1274.8L1496.4,1289.1L1498.2,1217.4L1499.9,1212.6L1501.7,1197.0L1503.4,1157.0L1505.2,1167.7L1506.9,1238.1L1508.7,1175.6L1510.4,1253.1L1512.2,1127.6L1513.9,1129.2L1515.7,1358.9L1517.4,1252.2L1519.2,1180.4L1520.9,1214.6L1522.7,1266.6L1524.4,1184.0L1526.2,1195.0L1527.9,1149.7L1529.7,1206.3L1531.4,1127.5L1533.2,1126.7L1534.9,1281.0L1536.7,1306.1L1538.4,1297.3L1540.2,1144.3L1541.9,1152.6L1543.7,1185.4L1545.4,1185.8L1547.2,1285.2L1548.9,1221.1L1550.7,1281.9L1552.4,1216.8L1554.2,1358.9L1555.9,1258.8L1557.7,1262.5L1559.4,1185.9L1561.2,1120.6L1562.9,1260.8L1564.7,1137.8L1566.4,1177.4L1568.2,1059.0L1569.9,1056.8L1571.7,1173.9L1573.4,1137.8L1575.2,1053.3L1576.9,1043.7L1578.7,1141.5L1580.4,1209.1L1582.2,1127.9L1583.9,1046.9L1585.7,1047.3L1587.4,1089.5L1589.2,1098.8L1590.9,1110.6L1592.7,1152.7L1594.4,1238.8L1596.2,1146.6L1597.9,1142.6L1599.7,1118.4L1601.4,1162.7L1603.2,1212.9L1604.9,1133.8L1606.7,1114.4L1608.4,1094.3L1610.2,1235.2L1611.9,1225.2L1613.7,1207.1L1615.4,1089.7L1617.2,1267.4L1618.9,1135.8L1620.7,1224.0L1622.4,1253.0L1624.2,1134.4L1625.9,868.3L1627.7,964.3L1629.4,1269.8L1631.2,1216.1L1632.9,1226.1L1634.7,1121.4L1636.4,1224.6L1638.2,1213.2L1639.9,1272.0L1641.7,1196.5L1643.4,1198.4L1645.2,1168.3L1646.9,1236.7L1648.7,1154.2L1650.4,1218.1L1652.2,1150.1L1653.9,1145.2L1655.7,1218.5L1657.4,1192.8L1659.2,1226.8L1660.9,1253.8L1662.7,1087.5L1664.4,986.1L1666.2,909.4L1667.9,917.3L1669.7,1053.0L1671.4,1028.7L1673.2,975.8L1674.9,941.9L1676.7,968.4L1678.4,1033.6L1680.2,1019.4L1681.9,930.0L1683.7,1052.6L1685.4,1062.1L1687.2,1062.8L1688.9,1051.5L1690.7,946.3L1692.4,1012.1L1694.2,964.1L1695.9,937.3L1697.7,971.5L1699.4,1043.3L1701.2,1127.3L1702.9,1176.9L1704.7,1212.1L1706.4,1255.1L1708.2,1181.5L1709.9,1143.1L1711.7,1341.7L1713.4,1300.2L1715.2,1209.0L1716.9,1144.3L1718.7,1034.9L1720.4,1014.3L1722.2,1026.2L1723.9,1118.4L1725.7,1092.8L1727.4,1072.2L1729.2,1082.0L1730.9,1007.2L1732.7,1017.5L1734.4,1069.6L1736.2,1002.3L1737.9,947.9L1739.7,930.4L1741.4,976.2L1743.2,1038.2L1744.9,965.2L1746.7,933.8L1748.4,1018.3L1750.2,971.3L1751.9,1014.8L1753.7,958.1L1755.4,1038.5L1757.2,895.7L1758.9,1031.7L1760.7,1022.3L1762.4,1064.5L1764.2,1037.7L1765.9,1051.9L1767.7,936.0L1769.4,934.2L1771.2,1009.8L1772.9,1027.5L1774.7,984.5L1776.4,1023.2L1778.2,1030.1L1779.9,966.1L1781.7,937.1L1783.4,902.6L1785.2,928.2L1786.9,964.2L1788.7,987.5L1790.4,1007.3L1792.2,1012.5L1793.9,1025.6L1795.7,930.7L1797.4,929.6L1799.2,971.7L1800.9,972.8L1802.7,1015.4L1804.4,955.1L1806.2,980.1L1807.9,985.7L1809.7,994.2L1811.4,1028.6L1813.2,1017.0L1814.9,924.1L1816.7,1001.5L1818.4,1019.4L1820.2,919.7L1821.9,1266.5L1823.7,1290.3L1825.4,1238.5L1827.2,1214.5L1828.9,1149.1L1830.7,1192.4L1832.4,1179.8L1834.2,1167.2L1835.9,1111.3L1837.7,1128.2L1839.4,923.1L1841.2,1104.4L1842.9,992.7L1844.7,1119.1L1846.4,962.7L1848.2,1094.8L1849.9,1075.2L1851.7,1097.6L1853.4,1068.0L1855.2,949.0L1856.9,951.8L1858.7,1043.3L1860.4,998.3L1862.2,945.5L1863.9,967.2L1865.7,1041.6L1867.4,1015.4L1869.2,1007.7L1870.9,1123.3L1872.7,1110.0L1874.4,1067.2L1876.2,976.6L1877.9,999.8L1879.7,1043.3L1881.4,1180.7L1883.2,1169.0L1884.9,1202.0L1886.7,1140.1L1888.4,1168.9L1890.2,1061.8L1891.9,1106.9L1893.7,1115.9L1895.4,1092.6L1897.2,1044.7L1898.9,1137.1L1900.7,1180.5L1902.4,1130.0L1904.2,1018.2L1905.9,1113.6L1907.7,1196.9L1909.4,1118.1L1911.2,1228.4L1912.9,1118.0L1914.7,1215.8L1916.4,1186.1L1918.2,1173.3L1919.9,1210.7L1921.7,1117.8L1923.4,1133.9L1925.2,1062.4L1926.9,1073.8L1928.7,1161.7L1930.4,1088.0L1932.2,1080.7L1933.9,1116.9L1935.7,1121.1L1937.4,1065.0L1939.2,1180.3L1940.9,1069.2L1942.7,1109.7L1944.4,1099.2L1946.2,1078.2L1947.9,1067.4L1949.7,1188.6L1951.4,1259.3L1953.2,1133.8L1954.9,1207.0L1956.7,1198.1L1958.4,1274.9L1960.2,1162.9L1961.9,1183.8L1963.7,1282.0L1965.4,1178.0L1967.2,1211.3L1968.9,1249.0L1970.7,1300.6L1972.4,1159.1L1974.2,1254.4L1975.9,1193.7L1977.7,1215.8L1979.4,1210.9L1981.2,1044.6L1982.9,989.9L1984.7,990.1L1986.4,1081.4L1988.2,1016.2L1989.9,995.5L1991.7,957.6L1993.4,1028.3L1995.2,1016.2L1996.9,984.8L1998.7,1144.3L2000.4,1068.9L2002.2,958.5L2003.9,974.7L2005.7,995.7L2007.4,981.2L2009.2,961.7L2010.9,1142.8L2012.7,1135.4L2014.4,1148.1L2016.2,1170.2L2017.9,1024.1L2019.7,1147.7L2021.4,1091.5L2023.2,1029.0L2024.9,984.5L2026.7,1182.9L2028.4,1205.2L2030.2,1212.6L2031.9,1117.6L2033.7,1184.7L2035.4,1078.9L2037.2,1006.9L2038.9,977.5L2040.7,1156.0L2042.4,1104.4L2044.2,1104.8L2045.9,1231.3L2047.7,1085.8L2049.4,996.6L2051.2,1202.6L2052.9,1072.3L2054.7,1073.8L2056.4,1088.5L2058.2,1212.3L2059.9,1230.1L2061.7,997.4L2063.4,1004.5L2065.2,1068.3L2066.9,1019.2L2068.7,1194.8L2070.4,1082.6L2072.2,1158.0L2073.9,1217.5L2075.7,1202.7L2077.4,1095.3L2079.2,1064.9L2080.9,1070.0L2082.7,1050.1" stroke="#00c896" stroke-width="3.2" stroke-opacity="1.00"/>
</g>
<line x1="1209.4" y1="839.2" x2="1209.4" y2="1426.6" stroke="#8d9bb1" stroke-width="2.2"/>
<line x1="1208.3" y1="1425.5" x2="2084.4" y2="1425.5" stroke="#8d9bb1" stroke-width="2.2"/>
<g fill="#2f4466" font-size="29.5">
<text x="1201.6" y="905.7" text-anchor="end">5.4</text>
<text x="1201.6" y="974.3" text-anchor="end">5.2</text>
<text x="1201.6" y="1042.9" text-anchor="end">5</text>
<text x="1201.6" y="1111.6" text-anchor="end">4.8</text>
<text x="1201.6" y="1180.2" text-anchor="end">4.6</text>
<text x="1201.6" y="1248.8" text-anchor="end">4.4</text>
<text x="1201.6" y="1317.4" text-anchor="end">4.2</text>
<text x="1201.6" y="1386.0" text-anchor="end">4</text>
<text x="1209.4" y="1461.4" text-anchor="middle">0</text>
<text x="1296.9" y="1461.4" text-anchor="middle">50</text>
<text x="1384.4" y="1461.4" text-anchor="middle">100</text>
<text x="1471.9" y="1461.4" text-anchor="middle">150</text>
<text x="1559.4" y="1461.4" text-anchor="middle">200</text>
<text x="1646.9" y="1461.4" text-anchor="middle">250</text>
<text x="1734.4" y="1461.4" text-anchor="middle">300</text>
<text x="1821.9" y="1461.4" text-anchor="middle">350</text>
<text x="1909.4" y="1461.4" text-anchor="middle">400</text>
<text x="1996.9" y="1461.4" text-anchor="middle">450</text>
</g>
<text x="1646.9" y="1500.8" text-anchor="middle" font-size="29.5" fill="#2f4466">Time (ns)</text>
<text transform="translate(1152.0,1176.0) rotate(-90)" x="-75" textLength="150" lengthAdjust="spacingAndGlyphs" font-size="29.5" fill="#2f4466">SASA (nm<tspan font-size="20" dy="-11">2</tspan><tspan dy="11">)</tspan></text>
<line x1="2103.5" y1="862.8" x2="2133.5" y2="862.8" stroke="#6a74fb" stroke-width="2.6" stroke-opacity="0.9"/>
<text x="2139.5" y="873.3" font-size="28.5" fill="#2f4466">Replica 1</text>
<line x1="2103.5" y1="903.8" x2="2133.5" y2="903.8" stroke="#f5512f" stroke-width="3.4" stroke-opacity="0.9"/>
<text x="2139.5" y="914.3" font-size="28.5" fill="#2f4466">Replica 2</text>
<line x1="2103.5" y1="945.0" x2="2133.5" y2="945.0" stroke="#00c896" stroke-width="3.8" stroke-opacity="0.9"/>
<text x="2139.5" y="955.5" font-size="28.5" fill="#2f4466">Replica 3</text>
</g>
</svg>
</body></html>
